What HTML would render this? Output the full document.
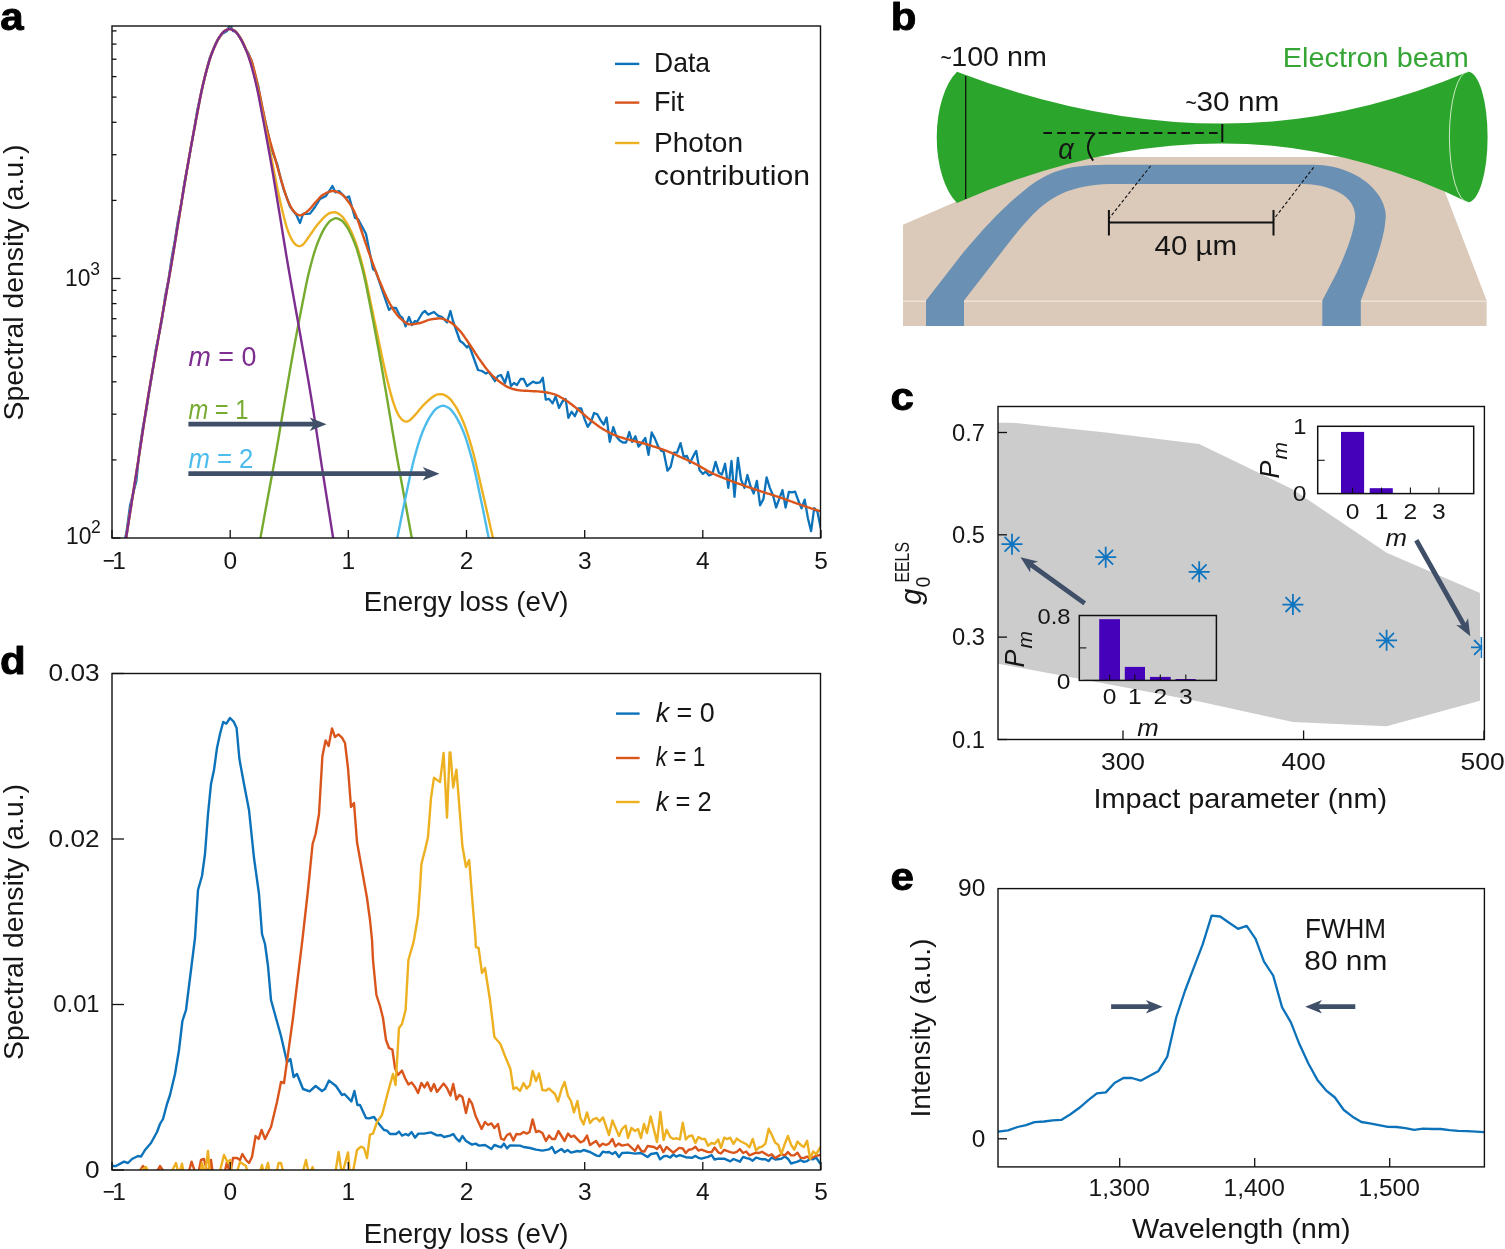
<!DOCTYPE html>
<html lang="en"><head><meta charset="utf-8"><title>Figure</title>
<style>html,body{margin:0;padding:0;background:#fff}svg{display:block}text{font-family:"Liberation Sans",sans-serif}</style></head><body>
<svg width="1505" height="1249" viewBox="0 0 1505 1249">
<rect width="1505" height="1249" fill="#fff"/>
<defs>
<clipPath id="ca"><rect x="112" y="26" width="709" height="512"/></clipPath>
<clipPath id="cd"><rect x="112" y="673.5" width="709" height="496.5"/></clipPath>
<clipPath id="cc"><rect x="998" y="406.5" width="484.3" height="333"/></clipPath>
<clipPath id="ce"><rect x="998" y="888.6" width="486" height="278.3"/></clipPath>
</defs>
<g clip-path="url(#ca)">
<path d="M114.0 591.8 L117.2 594.5 L120.4 573.2 L123.6 546.7 L126.8 529.9 L130.0 505.9 L133.2 493.3 L136.4 480.7 L139.6 449.3 L142.8 427.7 L146.0 412.2 L149.2 391.8 L152.4 372.1 L155.6 350.3 L158.8 335.5 L162.0 319.5 L165.2 295.7 L168.4 280.2 L171.6 258.5 L174.8 240.8 L178.0 220.2 L181.2 203.8 L184.4 182.7 L187.6 166.4 L190.8 148.1 L194.0 130.2 L197.2 110.5 L200.4 96.2 L203.6 82.0 L206.8 69.5 L210.0 57.1 L213.2 49.5 L216.4 41.8 L219.6 36.3 L222.8 33.5 L227.0 31.0 L230.0 24.5 L233.0 31.0 L235.6 31.3 L238.8 35.7 L242.0 41.2 L245.2 48.1 L248.4 53.2 L251.6 61.1 L254.8 73.9 L258.0 85.0 L261.2 102.4 L264.4 117.8 L267.6 131.3 L270.8 146.6 L274.0 155.8 L277.2 164.3 L280.4 177.6 L283.6 189.1 L286.8 197.7 L290.0 206.5 L293.2 210.7 L296.4 215.0 L300.0 223.0 L303.0 214.0 L310.0 213.6 L315.0 207.0 L320.0 199.0 L326.0 196.0 L332.4 186.0 L335.6 192.4 L339.0 191.0 L346.0 198.0 L349.0 196.4 L355.0 218.0 L358.0 219.0 L366.0 234.0 L373.0 269.0 L375.6 271.0 L389.0 310.0 L391.0 308.0 L396.0 308.0 L400.0 316.0 L402.4 317.6 L405.6 326.4 L409.0 317.0 L412.0 325.0 L415.0 321.0 L417.0 322.0 L422.4 313.0 L425.0 311.0 L428.0 314.6 L434.0 312.0 L438.0 315.6 L442.0 317.0 L447.0 322.4 L450.4 311.0 L453.0 321.0 L460.0 341.0 L463.0 343.0 L467.0 347.6 L469.0 345.0 L478.0 370.0 L482.0 371.0 L486.0 373.6 L489.0 372.0 L495.0 381.0 L498.0 376.0 L501.0 375.0 L505.0 383.0 L508.0 372.0 L511.0 386.0 L514.0 383.0 L517.0 385.0 L520.6 379.0 L523.6 379.0 L527.0 386.0 L533.0 381.6 L536.0 383.0 L540.0 382.3 L542.8 377.8 L545.8 399.6 L549.0 398.9 L552.6 403.4 L555.6 396.4 L559.0 407.9 L562.4 401.5 L565.6 398.9 L568.4 417.8 L571.6 411.7 L574.8 416.2 L578.2 408.5 L581.3 408.5 L584.5 418.8 L587.7 426.9 L590.9 422.0 L594.1 413.0 L597.3 414.3 L600.5 420.1 L603.7 424.6 L606.6 417.5 L609.8 441.8 L613.3 427.1 L616.5 436.7 L619.7 440.6 L622.9 442.5 L626.1 442.5 L629.3 432.0 L632.2 441.8 L635.4 436.3 L638.6 446.6 L642.1 442.5 L645.3 438.0 L648.5 454.9 L651.7 432.5 L654.9 438.6 L658.1 446.3 L661.3 450.8 L663.6 451.5 L667.5 470.7 L670.7 466.8 L673.9 452.7 L677.1 452.7 L680.5 443.1 L683.7 456.8 L686.9 455.9 L689.9 463.0 L693.1 456.6 L693.9 454.8 L696.2 450.9 L699.5 470.0 L702.9 473.9 L705.7 471.7 L709.1 475.6 L712.4 473.9 L715.6 461.8 L718.9 472.8 L721.9 474.5 L725.1 463.8 L728.3 487.9 L731.5 461.0 L734.5 496.9 L737.9 457.9 L741.0 479.5 L744.4 487.9 L747.4 475.0 L750.5 486.2 L753.7 493.5 L756.9 480.8 L760.1 505.3 L763.4 499.1 L766.6 477.3 L769.8 487.9 L773.0 495.2 L776.1 507.5 L779.3 498.6 L782.5 490.1 L785.6 507.5 L788.9 491.8 L792.0 492.4 L795.1 491.6 L798.4 500.8 L801.5 508.4 L804.7 499.7 L807.9 518.2 L811.1 531.1 L814.2 508.1 L817.5 512.0 L820.8 528.3" fill="none" stroke="#0c72ba" stroke-width="2.3" stroke-linejoin="round" stroke-linecap="butt"/>
<path d="M112.0 591.8 L113.0 591.8 L114.0 591.8 L115.0 591.8 L116.0 591.8 L117.0 591.8 L118.0 591.8 L119.0 585.1 L120.0 578.4 L121.0 571.7 L122.0 565.0 L123.0 558.4 L124.0 551.8 L125.0 545.2 L126.0 538.7 L127.0 532.2 L128.0 525.7 L129.0 519.4 L130.0 513.0 L131.0 506.7 L132.0 500.4 L133.0 494.1 L134.0 487.8 L135.0 481.5 L136.0 475.2 L137.0 468.8 L138.0 462.4 L139.0 455.9 L140.0 449.3 L141.0 442.7 L142.0 436.1 L143.0 429.5 L144.0 422.9 L145.0 416.4 L146.0 410.0 L147.0 403.7 L148.0 397.6 L149.0 391.5 L150.0 385.6 L151.0 379.8 L152.0 374.0 L153.0 368.3 L154.0 362.6 L155.0 357.0 L156.0 351.4 L157.0 345.7 L158.0 340.1 L159.0 334.4 L160.0 328.7 L161.0 323.1 L162.0 317.4 L163.0 311.8 L164.0 306.2 L165.0 300.6 L166.0 295.0 L167.0 289.3 L168.0 283.7 L169.0 278.0 L170.0 272.3 L171.0 266.5 L172.0 260.6 L173.0 254.6 L174.0 248.6 L175.0 242.4 L176.0 236.2 L177.0 230.0 L178.0 223.8 L179.0 217.7 L180.0 211.6 L181.0 205.5 L182.0 199.4 L183.0 193.3 L184.0 187.3 L185.0 181.3 L186.0 175.3 L187.0 169.5 L188.0 163.7 L189.0 158.0 L190.0 152.4 L191.0 146.8 L192.0 141.3 L193.0 135.9 L194.0 130.5 L195.0 125.2 L196.0 119.9 L197.0 114.6 L198.0 109.3 L199.0 104.0 L200.0 98.8 L201.0 93.8 L202.0 89.0 L203.0 84.6 L204.0 80.4 L205.0 76.3 L206.0 72.4 L207.0 68.7 L208.0 65.1 L209.0 61.7 L210.0 58.6 L211.0 55.7 L212.0 53.0 L213.0 50.4 L214.0 48.0 L215.0 45.7 L216.0 43.5 L217.0 41.5 L218.0 39.6 L219.0 38.0 L220.0 36.4 L221.0 34.9 L222.0 33.6 L223.0 32.4 L224.0 31.4 L225.0 30.7 L226.0 30.2 L227.0 29.6 L228.0 29.3 L229.0 29.1 L230.0 29.0 L231.0 29.2 L232.0 29.6 L233.0 30.0 L234.0 30.6 L235.0 31.3 L236.0 32.2 L237.0 33.3 L238.0 34.6 L239.0 36.1 L240.0 37.6 L241.0 39.3 L242.0 41.1 L243.0 43.1 L244.0 45.2 L245.0 47.6 L246.0 49.9 L247.0 51.9 L248.0 53.7 L249.0 55.4 L250.0 57.3 L251.0 59.5 L252.0 62.2 L253.0 65.5 L254.0 69.3 L255.0 73.3 L256.0 77.7 L257.0 82.1 L258.0 86.7 L259.0 91.1 L260.0 95.6 L261.0 100.4 L262.0 105.4 L263.0 110.5 L264.0 115.6 L265.0 120.6 L266.0 125.3 L267.0 129.7 L268.0 133.7 L269.0 137.4 L270.0 141.0 L271.0 144.5 L272.0 147.9 L273.0 151.3 L274.0 154.7 L275.0 158.2 L276.0 161.8 L277.0 165.4 L278.0 169.0 L279.0 172.6 L280.0 176.1 L281.0 179.5 L282.0 182.8 L283.0 186.1 L284.0 189.5 L285.0 192.7 L286.0 195.8 L287.0 198.6 L288.0 201.0 L289.0 203.2 L290.0 205.3 L291.0 207.2 L292.0 209.0 L293.0 210.5 L294.0 211.7 L295.0 212.6 L296.0 213.5 L297.0 214.2 L298.0 214.8 L299.0 215.2 L300.0 215.4 L301.0 215.3 L302.0 215.0 L303.0 214.5 L304.0 213.8 L305.0 213.1 L306.0 212.4 L307.0 211.6 L308.0 210.8 L309.0 209.9 L310.0 208.8 L311.0 207.7 L312.0 206.5 L313.0 205.2 L314.0 204.0 L315.0 202.9 L316.0 201.8 L317.0 200.7 L318.0 199.6 L319.0 198.4 L320.0 197.3 L321.0 196.4 L322.0 195.5 L323.0 194.8 L324.0 194.2 L325.0 193.7 L326.0 193.1 L327.0 192.7 L328.0 192.2 L329.0 191.8 L330.0 191.5 L331.0 191.2 L332.0 191.1 L333.0 191.0 L334.0 191.1 L335.0 191.2 L336.0 191.5 L337.0 191.9 L338.0 192.3 L339.0 192.8 L340.0 193.3 L341.0 193.8 L342.0 194.4 L343.0 195.3 L344.0 196.2 L345.0 197.4 L346.0 198.6 L347.0 199.9 L348.0 201.2 L349.0 202.6 L350.0 204.0 L351.0 205.6 L352.0 207.3 L353.0 209.1 L354.0 211.1 L355.0 213.2 L356.0 215.4 L357.0 218.0 L358.0 220.8 L359.0 223.7 L360.0 226.6 L361.0 229.5 L362.0 232.4 L363.0 235.3 L364.0 238.3 L365.0 241.3 L366.0 244.2 L367.0 247.2 L368.0 250.0 L369.0 252.8 L370.0 255.6 L371.0 258.4 L372.0 261.1 L373.0 263.9 L374.0 266.6 L375.0 269.3 L376.0 271.9 L377.0 274.5 L378.0 277.1 L379.0 279.6 L380.0 282.0 L381.0 284.4 L382.0 286.8 L383.0 289.2 L384.0 291.6 L385.0 293.9 L386.0 296.1 L387.0 298.2 L388.0 300.3 L389.0 302.2 L390.0 304.0 L391.0 305.7 L392.0 307.4 L393.0 309.0 L394.0 310.5 L395.0 312.0 L396.0 313.4 L397.0 314.8 L398.0 316.0 L399.0 317.1 L400.0 318.0 L401.0 318.9 L402.0 319.8 L403.0 320.7 L404.0 321.5 L405.0 322.3 L406.0 323.0 L407.0 323.6 L408.0 324.0 L409.0 324.3 L410.0 324.4 L411.0 324.4 L412.0 324.3 L413.0 324.2 L414.0 324.1 L415.0 323.9 L416.0 323.8 L417.0 323.6 L418.0 323.4 L419.0 323.2 L420.0 323.0 L421.0 322.8 L422.0 322.4 L423.0 322.1 L424.0 321.7 L425.0 321.3 L426.0 320.9 L427.0 320.5 L428.0 320.1 L429.0 319.8 L430.0 319.6 L431.0 319.4 L432.0 319.2 L433.0 319.1 L434.0 318.9 L435.0 318.8 L436.0 318.7 L437.0 318.5 L438.0 318.5 L439.0 318.4 L440.0 318.4 L441.0 318.5 L442.0 318.6 L443.0 318.9 L444.0 319.2 L445.0 319.6 L446.0 320.0 L447.0 320.5 L448.0 321.0 L449.0 321.5 L450.0 322.0 L451.0 322.6 L452.0 323.2 L453.0 324.0 L454.0 324.9 L455.0 325.8 L456.0 326.7 L457.0 327.8 L458.0 328.8 L459.0 329.9 L460.0 331.0 L461.0 332.1 L462.0 333.4 L463.0 334.7 L464.0 336.1 L465.0 337.6 L466.0 339.0 L467.0 340.5 L468.0 342.0 L469.0 343.5 L470.0 345.0 L471.0 346.5 L472.0 348.0 L473.0 349.5 L474.0 351.0 L475.0 352.6 L476.0 354.1 L477.0 355.6 L478.0 357.1 L479.0 358.6 L480.0 360.0 L481.0 361.4 L482.0 362.8 L483.0 364.2 L484.0 365.6 L485.0 366.9 L486.0 368.2 L487.0 369.5 L488.0 370.7 L489.0 371.9 L490.0 373.0 L491.0 374.0 L492.0 375.1 L493.0 376.1 L494.0 377.0 L495.0 377.9 L496.0 378.8 L497.0 379.7 L498.0 380.5 L499.0 381.3 L500.0 382.0 L501.0 382.7 L502.0 383.4 L503.0 384.1 L504.0 384.8 L505.0 385.5 L506.0 386.1 L507.0 386.7 L508.0 387.2 L509.0 387.6 L510.0 388.0 L511.0 388.3 L512.0 388.7 L513.0 389.0 L514.0 389.2 L515.0 389.5 L516.0 389.7 L517.0 390.0 L518.0 390.1 L519.0 390.3 L520.0 390.4 L521.0 390.5 L522.0 390.6 L523.0 390.6 L524.0 390.7 L525.0 390.7 L526.0 390.8 L527.0 390.8 L528.0 390.9 L529.0 390.9 L530.0 391.0 L531.0 391.1 L532.0 391.1 L533.0 391.2 L534.0 391.2 L535.0 391.3 L536.0 391.3 L537.0 391.4 L538.0 391.4 L539.0 391.5 L540.0 391.6 L541.0 391.7 L542.0 391.8 L543.0 391.9 L544.0 392.1 L545.0 392.2 L546.0 392.4 L547.0 392.5 L548.0 392.7 L549.0 392.9 L550.0 393.1 L551.0 393.4 L552.0 393.6 L553.0 393.9 L554.0 394.1 L555.0 394.5 L556.0 394.9 L557.0 395.3 L558.0 395.8 L559.0 396.3 L560.0 396.9 L561.0 397.5 L562.0 398.0 L563.0 398.6 L564.0 399.2 L565.0 399.8 L566.0 400.4 L567.0 401.1 L568.0 401.7 L569.0 402.4 L570.0 403.2 L571.0 403.9 L572.0 404.7 L573.0 405.5 L574.0 406.3 L575.0 407.1 L576.0 407.9 L577.0 408.7 L578.0 409.5 L579.0 410.3 L580.0 411.1 L581.0 412.0 L582.0 412.8 L583.0 413.7 L584.0 414.6 L585.0 415.5 L586.0 416.4 L587.0 417.2 L588.0 418.1 L589.0 418.9 L590.0 419.8 L591.0 420.5 L592.0 421.3 L593.0 422.1 L594.0 422.8 L595.0 423.6 L596.0 424.3 L597.0 425.1 L598.0 425.8 L599.0 426.5 L600.0 427.2 L601.0 427.8 L602.0 428.5 L603.0 429.1 L604.0 429.7 L605.0 430.3 L606.0 430.8 L607.0 431.4 L608.0 431.9 L609.0 432.4 L610.0 433.0 L611.0 433.4 L612.0 433.9 L613.0 434.4 L614.0 434.8 L615.0 435.2 L616.0 435.7 L617.0 436.0 L618.0 436.4 L619.0 436.8 L620.0 437.1 L621.0 437.4 L622.0 437.7 L623.0 438.0 L624.0 438.3 L625.0 438.6 L626.0 438.9 L627.0 439.2 L628.0 439.4 L629.0 439.7 L630.0 440.0 L631.0 440.2 L632.0 440.5 L633.0 440.8 L634.0 441.0 L635.0 441.2 L636.0 441.5 L637.0 441.7 L638.0 442.0 L639.0 442.2 L640.0 442.4 L641.0 442.7 L642.0 443.0 L643.0 443.2 L644.0 443.5 L645.0 443.8 L646.0 444.1 L647.0 444.4 L648.0 444.7 L649.0 445.0 L650.0 445.3 L651.0 445.6 L652.0 445.9 L653.0 446.3 L654.0 446.6 L655.0 446.9 L656.0 447.2 L657.0 447.6 L658.0 447.9 L659.0 448.2 L660.0 448.6 L661.0 448.9 L662.0 449.2 L663.0 449.6 L664.0 450.0 L665.0 450.3 L666.0 450.7 L667.0 451.1 L668.0 451.5 L669.0 451.9 L670.0 452.3 L671.0 452.7 L672.0 453.1 L673.0 453.6 L674.0 454.0 L675.0 454.5 L676.0 455.0 L677.0 455.4 L678.0 455.9 L679.0 456.3 L680.0 456.8 L681.0 457.2 L682.0 457.7 L683.0 458.1 L684.0 458.6 L685.0 459.0 L686.0 459.5 L687.0 459.9 L688.0 460.3 L689.0 460.8 L690.0 461.2 L691.0 461.7 L692.0 462.2 L693.0 462.7 L694.0 463.1 L695.0 463.7 L696.0 464.2 L697.0 464.7 L698.0 465.3 L699.0 465.9 L700.0 466.4 L701.0 467.0 L702.0 467.6 L703.0 468.2 L704.0 468.8 L705.0 469.4 L706.0 469.9 L707.0 470.5 L708.0 471.0 L709.0 471.6 L710.0 472.1 L711.0 472.6 L712.0 473.1 L713.0 473.6 L714.0 474.0 L715.0 474.5 L716.0 474.9 L717.0 475.4 L718.0 475.8 L719.0 476.2 L720.0 476.6 L721.0 477.0 L722.0 477.4 L723.0 477.8 L724.0 478.2 L725.0 478.6 L726.0 479.0 L727.0 479.4 L728.0 479.8 L729.0 480.1 L730.0 480.5 L731.0 480.9 L732.0 481.3 L733.0 481.6 L734.0 482.0 L735.0 482.4 L736.0 482.7 L737.0 483.1 L738.0 483.5 L739.0 483.8 L740.0 484.2 L741.0 484.5 L742.0 484.9 L743.0 485.2 L744.0 485.6 L745.0 485.9 L746.0 486.3 L747.0 486.6 L748.0 487.0 L749.0 487.3 L750.0 487.6 L751.0 488.0 L752.0 488.3 L753.0 488.7 L754.0 489.0 L755.0 489.3 L756.0 489.7 L757.0 490.0 L758.0 490.3 L759.0 490.7 L760.0 491.0 L761.0 491.3 L762.0 491.7 L763.0 492.0 L764.0 492.3 L765.0 492.6 L766.0 492.9 L767.0 493.3 L768.0 493.6 L769.0 493.9 L770.0 494.2 L771.0 494.5 L772.0 494.9 L773.0 495.2 L774.0 495.5 L775.0 495.8 L776.0 496.2 L777.0 496.5 L778.0 496.8 L779.0 497.2 L780.0 497.5 L781.0 497.8 L782.0 498.2 L783.0 498.5 L784.0 498.9 L785.0 499.2 L786.0 499.6 L787.0 500.0 L788.0 500.3 L789.0 500.7 L790.0 501.0 L791.0 501.4 L792.0 501.7 L793.0 502.1 L794.0 502.5 L795.0 502.8 L796.0 503.2 L797.0 503.5 L798.0 503.9 L799.0 504.2 L800.0 504.6 L801.0 504.9 L802.0 505.3 L803.0 505.6 L804.0 505.9 L805.0 506.3 L806.0 506.6 L807.0 506.9 L808.0 507.3 L809.0 507.6 L810.0 507.9 L811.0 508.3 L812.0 508.6 L813.0 508.9 L814.0 509.2 L815.0 509.6 L816.0 509.9 L817.0 510.2 L818.0 510.5 L819.0 510.8 L820.0 511.1 L821.0 511.4" fill="none" stroke="#d9551c" stroke-width="2.4" stroke-linejoin="round" stroke-linecap="butt"/>
<path d="M112.0 632.5 L113.0 625.7 L114.0 618.9 L115.0 612.1 L116.0 605.3 L117.0 598.5 L118.0 591.8 L119.0 585.0 L120.0 578.3 L121.0 571.6 L122.0 565.0 L123.0 558.3 L124.0 551.7 L125.0 545.2 L126.0 538.6 L127.0 532.1 L128.0 525.7 L129.0 519.3 L130.0 513.0 L131.0 506.7 L132.0 500.4 L133.0 494.1 L134.0 487.8 L135.0 481.5 L136.0 475.2 L137.0 468.8 L138.0 462.4 L139.0 455.9 L140.0 449.3 L141.0 442.7 L142.0 436.0 L143.0 429.4 L144.0 422.8 L145.0 416.3 L146.0 409.9 L147.0 403.7 L148.0 397.5 L149.0 391.5 L150.0 385.6 L151.0 379.7 L152.0 374.0 L153.0 368.3 L154.0 362.6 L155.0 356.9 L156.0 351.3 L157.0 345.7 L158.0 340.0 L159.0 334.4 L160.0 328.7 L161.0 323.0 L162.0 317.3 L163.0 311.7 L164.0 306.1 L165.0 300.5 L166.0 294.9 L167.0 289.3 L168.0 283.6 L169.0 277.9 L170.0 272.2 L171.0 266.4 L172.0 260.5 L173.0 254.6 L174.0 248.5 L175.0 242.3 L176.0 236.1 L177.0 229.9 L178.0 223.7 L179.0 217.6 L180.0 211.5 L181.0 205.4 L182.0 199.3 L183.0 193.2 L184.0 187.2 L185.0 181.2 L186.0 175.2 L187.0 169.4 L188.0 163.6 L189.0 158.0 L190.0 152.3 L191.0 146.7 L192.0 141.2 L193.0 135.8 L194.0 130.4 L195.0 125.1 L196.0 119.8 L197.0 114.5 L198.0 109.2 L199.0 103.9 L200.0 98.7 L201.0 93.7 L202.0 89.0 L203.0 84.5 L204.0 80.3 L205.0 76.3 L206.0 72.4 L207.0 68.6 L208.0 65.0 L209.0 61.6 L210.0 58.5 L211.0 55.5 L212.0 52.8 L213.0 50.3 L214.0 47.9 L215.0 45.6 L216.0 43.4 L217.0 41.4 L218.0 39.5 L219.0 37.8 L220.0 36.3 L221.0 34.8 L222.0 33.4 L223.0 32.2 L224.0 31.2 L225.0 30.6 L226.0 30.0 L227.0 29.5 L228.0 29.1 L229.0 28.8 L230.0 28.8 L231.0 29.0 L232.0 29.3 L233.0 29.8 L234.0 30.3 L235.0 30.9 L236.0 31.8 L237.0 32.9 L238.0 34.3 L239.0 35.7 L240.0 37.2 L241.0 38.8 L242.0 40.6 L243.0 42.5 L244.0 44.6 L245.0 46.9 L246.0 49.2 L247.0 51.7 L248.0 54.3 L249.0 57.1 L250.0 60.1 L251.0 63.4 L252.0 66.8 L253.0 70.4 L254.0 74.2 L255.0 78.1 L256.0 82.1 L257.0 86.4 L258.0 90.9 L259.0 95.7 L260.0 100.6 L261.0 105.7 L262.0 110.7 L263.0 115.8 L264.0 120.7 L265.0 125.7 L266.0 130.7 L267.0 135.7 L268.0 140.8 L269.0 145.9 L270.0 151.0 L271.0 156.0 L272.0 161.1 L273.0 166.2 L274.0 171.3 L275.0 176.4 L276.0 181.4 L277.0 186.4 L278.0 191.3 L279.0 196.0 L280.0 200.5 L281.0 205.0 L282.0 209.3 L283.0 213.5 L284.0 217.5 L285.0 221.3 L286.0 224.8 L287.0 228.1 L288.0 231.0 L289.0 233.6 L290.0 236.0 L291.0 238.1 L292.0 239.9 L293.0 241.5 L294.0 242.9 L295.0 244.0 L296.0 244.9 L297.0 245.5 L298.0 245.9 L299.0 246.1 L300.0 246.1 L301.0 245.8 L302.0 245.3 L303.0 244.5 L304.0 243.5 L305.0 242.3 L306.0 240.9 L307.0 239.5 L308.0 238.0 L309.0 236.6 L310.0 235.2 L311.0 233.7 L312.0 232.3 L313.0 230.8 L314.0 229.3 L315.0 227.9 L316.0 226.5 L317.0 225.3 L318.0 224.1 L319.0 222.9 L320.0 221.7 L321.0 220.6 L322.0 219.5 L323.0 218.4 L324.0 217.4 L325.0 216.5 L326.0 215.6 L327.0 214.8 L328.0 214.1 L329.0 213.4 L330.0 212.9 L331.0 212.7 L332.0 212.5 L333.0 212.4 L334.0 212.3 L335.0 212.3 L336.0 212.5 L337.0 212.9 L338.0 213.4 L339.0 214.1 L340.0 214.8 L341.0 215.6 L342.0 216.4 L343.0 217.5 L344.0 218.8 L345.0 220.3 L346.0 221.8 L347.0 223.4 L348.0 225.1 L349.0 227.0 L350.0 229.0 L351.0 231.1 L352.0 233.3 L353.0 235.7 L354.0 238.1 L355.0 240.7 L356.0 243.4 L357.0 246.4 L358.0 249.5 L359.0 252.8 L360.0 256.3 L361.0 259.9 L362.0 263.7 L363.0 267.5 L364.0 271.5 L365.0 275.8 L366.0 280.3 L367.0 285.0 L368.0 289.8 L369.0 294.6 L370.0 299.4 L371.0 304.2 L372.0 309.0 L373.0 313.7 L374.0 318.5 L375.0 323.3 L376.0 328.0 L377.0 332.8 L378.0 337.6 L379.0 342.4 L380.0 347.1 L381.0 351.8 L382.0 356.5 L383.0 361.2 L384.0 365.8 L385.0 370.3 L386.0 374.7 L387.0 378.9 L388.0 383.0 L389.0 387.0 L390.0 390.9 L391.0 394.6 L392.0 398.1 L393.0 401.4 L394.0 404.4 L395.0 407.2 L396.0 409.8 L397.0 412.0 L398.0 414.0 L399.0 415.8 L400.0 417.3 L401.0 418.5 L402.0 419.6 L403.0 420.4 L404.0 421.0 L405.0 421.4 L406.0 421.6 L407.0 421.5 L408.0 421.2 L409.0 420.7 L410.0 420.0 L411.0 419.1 L412.0 418.2 L413.0 417.1 L414.0 416.1 L415.0 415.1 L416.0 413.9 L417.0 412.8 L418.0 411.5 L419.0 410.3 L420.0 409.1 L421.0 407.9 L422.0 406.7 L423.0 405.7 L424.0 404.7 L425.0 403.7 L426.0 402.7 L427.0 401.7 L428.0 400.8 L429.0 399.9 L430.0 399.0 L431.0 398.2 L432.0 397.5 L433.0 396.8 L434.0 396.1 L435.0 395.5 L436.0 394.9 L437.0 394.6 L438.0 394.4 L439.0 394.3 L440.0 394.2 L441.0 394.2 L442.0 394.2 L443.0 394.4 L444.0 394.8 L445.0 395.3 L446.0 395.9 L447.0 396.5 L448.0 397.2 L449.0 398.0 L450.0 398.9 L451.0 400.0 L452.0 401.3 L453.0 402.7 L454.0 404.1 L455.0 405.6 L456.0 407.2 L457.0 408.9 L458.0 410.7 L459.0 412.7 L460.0 414.7 L461.0 416.8 L462.0 419.0 L463.0 421.3 L464.0 423.7 L465.0 426.4 L466.0 429.1 L467.0 432.1 L468.0 435.1 L469.0 438.3 L470.0 441.6 L471.0 445.0 L472.0 448.4 L473.0 452.0 L474.0 455.9 L475.0 459.9 L476.0 464.1 L477.0 468.4 L478.0 472.7 L479.0 477.1 L480.0 481.4 L481.0 485.7 L482.0 490.0 L483.0 494.3 L484.0 498.6 L485.0 502.9 L486.0 507.3 L487.0 511.7 L488.0 516.1 L489.0 520.5 L490.0 524.9 L491.0 529.4 L492.0 533.8 L493.0 538.3 L494.0 542.8 L495.0 547.3 L496.0 551.8 L497.0 556.2 L498.0 560.6 L499.0 564.9 L500.0 569.2 L501.0 573.6 L502.0 577.8 L503.0 582.0 L504.0 586.2 L505.0 590.3 L506.0 594.2 L507.0 598.1 L508.0 601.8 L509.0 605.5 L510.0 609.0 L511.0 612.5 L512.0 615.9 L513.0 619.3 L514.0 622.5 L515.0 625.8 L516.0 628.9 L517.0 632.0 L518.0 635.1 L519.0 638.1 L520.0 641.1 L521.0 644.0 L522.0 646.9 L523.0 649.7 L524.0 652.4 L525.0 655.1 L526.0 657.7 L527.0 660.3 L528.0 662.8 L529.0 665.3 L530.0 667.7 L531.0 670.1 L532.0 672.5 L533.0 674.8 L534.0 677.1 L535.0 679.4 L536.0 681.7 L537.0 683.9 L538.0 686.1 L539.0 688.2 L540.0 690.3 L541.0 692.3 L542.0 694.3 L543.0 696.1 L544.0 697.9 L545.0 699.6 L546.0 701.3 L547.0 702.8 L548.0 704.3 L549.0 705.7 L550.0 707.1 L551.0 708.4 L552.0 709.7 L553.0 710.9 L554.0 712.1 L555.0 713.3 L556.0 714.4 L557.0 715.4 L558.0 716.4 L559.0 717.4 L560.0 718.4 L561.0 719.3 L562.0 720.2 L563.0 721.0 L564.0 721.8 L565.0 722.6 L566.0 723.4 L567.0 724.1 L568.0 724.7 L569.0 725.4 L570.0 726.0 L571.0 726.6 L572.0 727.2 L573.0 727.7 L574.0 728.2 L575.0 728.7 L576.0 729.2 L577.0 729.6 L578.0 730.0 L579.0 730.4 L580.0 730.8 L581.0 731.2 L582.0 731.5 L583.0 731.8 L584.0 732.1 L585.0 732.4 L586.0 732.7 L587.0 733.0 L588.0 733.2 L589.0 733.5 L590.0 733.7 L591.0 733.9 L592.0 734.1 L593.0 734.3 L594.0 734.5 L595.0 734.7 L596.0 734.8 L597.0 735.0 L598.0 735.1 L599.0 735.3 L600.0 735.4 L601.0 735.5 L602.0 735.7 L603.0 735.8 L604.0 735.9 L605.0 736.0 L606.0 736.1 L607.0 736.2 L608.0 736.2 L609.0 736.3 L610.0 736.4 L611.0 736.5 L612.0 736.5 L613.0 736.6 L614.0 736.7 L615.0 736.7 L616.0 736.8 L617.0 736.8 L618.0 736.9 L619.0 736.9 L620.0 737.0 L621.0 737.0 L622.0 737.0 L623.0 737.1 L624.0 737.1 L625.0 737.2 L626.0 737.2 L627.0 737.2 L628.0 737.2 L629.0 737.3 L630.0 737.3 L631.0 737.3 L632.0 737.3 L633.0 737.4 L634.0 737.4 L635.0 737.4 L636.0 737.4 L637.0 737.4 L638.0 737.4 L639.0 737.5 L640.0 737.5 L641.0 737.5 L642.0 737.5 L643.0 737.5 L644.0 737.5 L645.0 737.5 L646.0 737.5 L647.0 737.5 L648.0 737.6 L649.0 737.6 L650.0 737.6 L651.0 737.6 L652.0 737.6 L653.0 737.6 L654.0 737.6 L655.0 737.6 L656.0 737.6 L657.0 737.6 L658.0 737.6 L659.0 737.6 L660.0 737.6 L661.0 737.6 L662.0 737.6 L663.0 737.6 L664.0 737.6 L665.0 737.6 L666.0 737.6 L667.0 737.6 L668.0 737.7 L669.0 737.7 L670.0 737.7 L671.0 737.7 L672.0 737.7 L673.0 737.7 L674.0 737.7 L675.0 737.7 L676.0 737.7 L677.0 737.7 L678.0 737.7 L679.0 737.7 L680.0 737.7 L681.0 737.7 L682.0 737.7 L683.0 737.7 L684.0 737.7 L685.0 737.7 L686.0 737.7 L687.0 737.7 L688.0 737.7 L689.0 737.7 L690.0 737.7 L691.0 737.7 L692.0 737.7 L693.0 737.7 L694.0 737.7 L695.0 737.7 L696.0 737.7 L697.0 737.7 L698.0 737.7 L699.0 737.7 L700.0 737.7 L701.0 737.7 L702.0 737.7 L703.0 737.7 L704.0 737.7 L705.0 737.7 L706.0 737.7 L707.0 737.7 L708.0 737.7 L709.0 737.7 L710.0 737.7 L711.0 737.7 L712.0 737.7 L713.0 737.7 L714.0 737.7 L715.0 737.7 L716.0 737.7 L717.0 737.7 L718.0 737.7 L719.0 737.7 L720.0 737.7 L721.0 737.7 L722.0 737.7 L723.0 737.7 L724.0 737.7 L725.0 737.7 L726.0 737.7 L727.0 737.7 L728.0 737.7 L729.0 737.7 L730.0 737.7 L731.0 737.7 L732.0 737.7 L733.0 737.7 L734.0 737.7 L735.0 737.7 L736.0 737.7 L737.0 737.7 L738.0 737.7 L739.0 737.7 L740.0 737.7 L741.0 737.7 L742.0 737.7 L743.0 737.7 L744.0 737.7 L745.0 737.7 L746.0 737.7 L747.0 737.7 L748.0 737.7 L749.0 737.7 L750.0 737.7 L751.0 737.7 L752.0 737.7 L753.0 737.7 L754.0 737.7 L755.0 737.7 L756.0 737.7 L757.0 737.7 L758.0 737.7 L759.0 737.7 L760.0 737.7 L761.0 737.7 L762.0 737.7 L763.0 737.7 L764.0 737.7 L765.0 737.7 L766.0 737.7 L767.0 737.7 L768.0 737.7 L769.0 737.7 L770.0 737.7 L771.0 737.7 L772.0 737.7 L773.0 737.7 L774.0 737.7 L775.0 737.7 L776.0 737.7 L777.0 737.7 L778.0 737.7 L779.0 737.7 L780.0 737.7 L781.0 737.7 L782.0 737.7 L783.0 737.7 L784.0 737.7 L785.0 737.7 L786.0 737.7 L787.0 737.7 L788.0 737.7 L789.0 737.7 L790.0 737.7 L791.0 737.7 L792.0 737.7 L793.0 737.7 L794.0 737.7 L795.0 737.7 L796.0 737.7 L797.0 737.7 L798.0 737.7 L799.0 737.7 L800.0 737.7 L801.0 737.7 L802.0 737.7 L803.0 737.7 L804.0 737.7 L805.0 737.7 L806.0 737.7 L807.0 737.7 L808.0 737.7 L809.0 737.7 L810.0 737.7 L811.0 737.7 L812.0 737.7 L813.0 737.7 L814.0 737.7 L815.0 737.7 L816.0 737.7 L817.0 737.7 L818.0 737.7 L819.0 737.7 L820.0 737.7 L821.0 737.7" fill="none" stroke="#edb021" stroke-width="2.4" stroke-linejoin="round" stroke-linecap="butt"/>
<path d="M112.0 1529.3 L113.0 1522.3 L114.0 1515.3 L115.0 1508.4 L116.0 1501.4 L117.0 1494.5 L118.0 1487.5 L119.0 1480.6 L120.0 1473.6 L121.0 1466.6 L122.0 1459.7 L123.0 1452.7 L124.0 1445.8 L125.0 1438.8 L126.0 1431.9 L127.0 1424.9 L128.0 1418.0 L129.0 1411.0 L130.0 1404.0 L131.0 1397.1 L132.0 1390.1 L133.0 1383.2 L134.0 1376.2 L135.0 1369.3 L136.0 1362.3 L137.0 1355.3 L138.0 1348.4 L139.0 1341.4 L140.0 1334.5 L141.0 1327.5 L142.0 1320.6 L143.0 1313.6 L144.0 1306.6 L145.0 1299.7 L146.0 1292.7 L147.0 1285.8 L148.0 1278.8 L149.0 1271.9 L150.0 1264.9 L151.0 1258.0 L152.0 1251.0 L153.0 1244.0 L154.0 1237.1 L155.0 1230.1 L156.0 1223.2 L157.0 1216.2 L158.0 1209.3 L159.0 1202.3 L160.0 1195.3 L161.0 1188.4 L162.0 1181.4 L163.0 1174.5 L164.0 1167.5 L165.0 1160.6 L166.0 1153.6 L167.0 1146.6 L168.0 1139.7 L169.0 1132.7 L170.0 1125.8 L171.0 1118.8 L172.0 1111.9 L173.0 1104.9 L174.0 1098.0 L175.0 1091.0 L176.0 1084.0 L177.0 1077.1 L178.0 1070.1 L179.0 1063.2 L180.0 1056.2 L181.0 1049.3 L182.0 1042.3 L183.0 1035.3 L184.0 1028.4 L185.0 1021.4 L186.0 1014.5 L187.0 1007.5 L188.0 1000.6 L189.0 993.6 L190.0 986.6 L191.0 979.7 L192.0 972.8 L193.0 965.9 L194.0 959.0 L195.0 952.2 L196.0 945.3 L197.0 938.5 L198.0 931.7 L199.0 924.9 L200.0 918.1 L201.0 911.3 L202.0 904.5 L203.0 897.8 L204.0 891.0 L205.0 884.3 L206.0 877.6 L207.0 870.9 L208.0 864.2 L209.0 857.6 L210.0 850.9 L211.0 844.3 L212.0 837.6 L213.0 831.0 L214.0 824.4 L215.0 817.8 L216.0 811.2 L217.0 804.6 L218.0 798.1 L219.0 791.5 L220.0 785.0 L221.0 778.5 L222.0 772.0 L223.0 765.5 L224.0 759.0 L225.0 752.6 L226.0 746.2 L227.0 739.8 L228.0 733.5 L229.0 727.2 L230.0 720.9 L231.0 714.7 L232.0 708.5 L233.0 702.4 L234.0 696.3 L235.0 690.2 L236.0 684.2 L237.0 678.1 L238.0 672.0 L239.0 665.9 L240.0 659.7 L241.0 653.6 L242.0 647.3 L243.0 641.0 L244.0 634.6 L245.0 628.2 L246.0 621.8 L247.0 615.4 L248.0 609.1 L249.0 602.8 L250.0 596.7 L251.0 590.7 L252.0 584.8 L253.0 579.0 L254.0 573.3 L255.0 567.7 L256.0 562.1 L257.0 556.6 L258.0 551.1 L259.0 545.7 L260.0 540.3 L261.0 534.8 L262.0 529.4 L263.0 523.9 L264.0 518.4 L265.0 512.9 L266.0 507.4 L267.0 502.0 L268.0 496.6 L269.0 491.2 L270.0 485.8 L271.0 480.3 L272.0 474.9 L273.0 469.4 L274.0 463.9 L275.0 458.3 L276.0 452.6 L277.0 446.9 L278.0 441.1 L279.0 435.2 L280.0 429.2 L281.0 423.3 L282.0 417.3 L283.0 411.3 L284.0 405.4 L285.0 399.5 L286.0 393.6 L287.0 387.7 L288.0 381.8 L289.0 376.0 L290.0 370.2 L291.0 364.5 L292.0 358.8 L293.0 353.3 L294.0 347.8 L295.0 342.3 L296.0 336.9 L297.0 331.6 L298.0 326.3 L299.0 321.1 L300.0 315.9 L301.0 310.8 L302.0 305.7 L303.0 300.6 L304.0 295.5 L305.0 290.4 L306.0 285.5 L307.0 280.8 L308.0 276.3 L309.0 272.1 L310.0 268.1 L311.0 264.3 L312.0 260.5 L313.0 257.0 L314.0 253.6 L315.0 250.3 L316.0 247.3 L317.0 244.5 L318.0 242.0 L319.0 239.5 L320.0 237.2 L321.0 234.9 L322.0 232.9 L323.0 230.9 L324.0 229.1 L325.0 227.4 L326.0 225.9 L327.0 224.5 L328.0 223.2 L329.0 222.0 L330.0 221.0 L331.0 220.3 L332.0 219.7 L333.0 219.2 L334.0 218.7 L335.0 218.4 L336.0 218.3 L337.0 218.4 L338.0 218.7 L339.0 219.1 L340.0 219.6 L341.0 220.1 L342.0 220.8 L343.0 221.7 L344.0 222.9 L345.0 224.2 L346.0 225.6 L347.0 227.1 L348.0 228.7 L349.0 230.5 L350.0 232.5 L351.0 234.5 L352.0 236.7 L353.0 239.0 L354.0 241.5 L355.0 244.0 L356.0 246.7 L357.0 249.7 L358.0 252.9 L359.0 256.3 L360.0 259.8 L361.0 263.5 L362.0 267.3 L363.0 271.3 L364.0 275.4 L365.0 279.9 L366.0 284.5 L367.0 289.4 L368.0 294.5 L369.0 299.6 L370.0 304.7 L371.0 309.8 L372.0 314.9 L373.0 320.0 L374.0 325.3 L375.0 330.5 L376.0 335.8 L377.0 341.2 L378.0 346.7 L379.0 352.1 L380.0 357.7 L381.0 363.3 L382.0 369.0 L383.0 374.8 L384.0 380.7 L385.0 386.5 L386.0 392.4 L387.0 398.3 L388.0 404.2 L389.0 410.1 L390.0 416.1 L391.0 422.1 L392.0 428.1 L393.0 434.0 L394.0 439.9 L395.0 445.8 L396.0 451.5 L397.0 457.2 L398.0 462.8 L399.0 468.3 L400.0 473.8 L401.0 479.2 L402.0 484.7 L403.0 490.1 L404.0 495.5 L405.0 500.9 L406.0 506.3 L407.0 511.8 L408.0 517.3 L409.0 522.8 L410.0 528.3 L411.0 533.7 L412.0 539.2 L413.0 544.6 L414.0 550.0 L415.0 555.5 L416.0 561.0 L417.0 566.6 L418.0 572.2 L419.0 577.9 L420.0 583.6 L421.0 589.5 L422.0 595.5 L423.0 601.6 L424.0 607.8 L425.0 614.1 L426.0 620.5 L427.0 626.9 L428.0 633.3 L429.0 639.7 L430.0 646.0 L431.0 652.3 L432.0 658.5 L433.0 664.7 L434.0 670.8 L435.0 676.9 L436.0 682.9 L437.0 689.0 L438.0 695.1 L439.0 701.2 L440.0 707.3 L441.0 713.4 L442.0 719.6 L443.0 725.9 L444.0 732.2 L445.0 738.5 L446.0 744.9 L447.0 751.3 L448.0 757.7 L449.0 764.2 L450.0 770.7 L451.0 777.2 L452.0 783.7 L453.0 790.2 L454.0 796.7 L455.0 803.3 L456.0 809.9 L457.0 816.5 L458.0 823.1 L459.0 829.7 L460.0 836.3 L461.0 842.9 L462.0 849.6 L463.0 856.2 L464.0 862.9 L465.0 869.6 L466.0 876.3 L467.0 883.0 L468.0 889.7 L469.0 896.4 L470.0 903.2 L471.0 909.9 L472.0 916.7 L473.0 923.5 L474.0 930.3 L475.0 937.1 L476.0 943.9 L477.0 950.8 L478.0 957.6 L479.0 964.5 L480.0 971.4 L481.0 978.3 L482.0 985.3 L483.0 992.2 L484.0 999.2 L485.0 1006.1 L486.0 1013.1 L487.0 1020.0 L488.0 1027.0 L489.0 1034.0 L490.0 1040.9 L491.0 1047.9 L492.0 1054.8 L493.0 1061.8 L494.0 1068.7 L495.0 1075.7 L496.0 1082.6 L497.0 1089.6 L498.0 1096.6 L499.0 1103.5 L500.0 1110.5 L501.0 1117.4 L502.0 1124.4 L503.0 1131.3 L504.0 1138.3 L505.0 1145.3 L506.0 1152.2 L507.0 1159.2 L508.0 1166.1 L509.0 1173.1 L510.0 1180.0 L511.0 1187.0 L512.0 1194.0 L513.0 1200.9 L514.0 1207.9 L515.0 1214.8 L516.0 1221.8 L517.0 1228.7 L518.0 1235.7 L519.0 1242.6 L520.0 1249.6 L521.0 1256.6 L522.0 1263.5 L523.0 1270.5 L524.0 1277.4 L525.0 1284.4 L526.0 1291.3 L527.0 1298.3 L528.0 1305.3 L529.0 1312.2 L530.0 1319.2 L531.0 1326.1 L532.0 1333.1 L533.0 1340.0 L534.0 1347.0 L535.0 1354.0 L536.0 1360.9 L537.0 1367.9 L538.0 1374.8 L539.0 1381.8 L540.0 1388.7 L541.0 1395.7 L542.0 1402.6 L543.0 1409.6 L544.0 1416.6 L545.0 1423.5 L546.0 1430.5 L547.0 1437.4 L548.0 1444.4 L549.0 1451.3 L550.0 1458.3 L551.0 1465.3 L552.0 1472.2 L553.0 1479.2 L554.0 1486.1 L555.0 1493.1 L556.0 1500.0 L557.0 1507.0 L558.0 1514.0 L559.0 1520.9 L560.0 1527.9 L561.0 1534.8 L562.0 1541.8 L563.0 1548.7 L564.0 1555.7 L565.0 1562.6 L566.0 1569.6 L567.0 1576.6 L568.0 1583.5 L569.0 1590.5 L570.0 1597.4 L571.0 1604.4 L572.0 1611.3 L573.0 1618.3 L574.0 1625.3 L575.0 1632.2 L576.0 1639.2 L577.0 1646.1 L578.0 1653.1 L579.0 1660.0 L580.0 1667.0 L581.0 1674.0 L582.0 1680.9 L583.0 1687.9 L584.0 1694.8 L585.0 1701.8 L586.0 1708.7 L587.0 1715.7 L588.0 1722.6 L589.0 1729.6 L590.0 1736.6 L591.0 1743.5 L592.0 1750.5 L593.0 1757.4 L594.0 1764.4 L595.0 1771.3 L596.0 1778.3 L597.0 1785.3 L598.0 1792.2 L599.0 1799.2 L600.0 1806.1 L601.0 1813.1 L602.0 1820.0 L603.0 1827.0 L604.0 1834.0 L605.0 1840.9 L606.0 1847.9 L607.0 1854.8 L608.0 1861.8 L609.0 1868.7 L610.0 1875.7 L611.0 1882.6 L612.0 1889.6 L613.0 1896.6 L614.0 1903.5 L615.0 1910.5 L616.0 1917.4 L617.0 1924.4 L618.0 1931.3 L619.0 1938.3 L620.0 1945.3 L621.0 1952.2 L622.0 1959.2 L623.0 1966.1 L624.0 1973.1 L625.0 1980.0 L626.0 1987.0 L627.0 1994.0 L628.0 2000.9 L629.0 2007.9 L630.0 2014.8 L631.0 2021.8 L632.0 2028.7 L633.0 2035.7 L634.0 2042.6 L635.0 2049.6 L636.0 2056.6 L637.0 2063.5 L638.0 2070.5 L639.0 2077.4 L640.0 2084.4 L641.0 2091.3 L642.0 2098.3 L643.0 2105.3 L644.0 2112.2 L645.0 2119.2 L646.0 2126.1 L647.0 2133.1 L648.0 2140.0 L649.0 2147.0 L650.0 2154.0 L651.0 2160.9 L652.0 2167.9 L653.0 2174.8 L654.0 2181.8 L655.0 2188.7 L656.0 2195.7 L657.0 2202.6 L658.0 2209.6 L659.0 2216.6 L660.0 2223.5 L661.0 2230.5 L662.0 2237.4 L663.0 2244.4 L664.0 2251.3 L665.0 2258.3 L666.0 2265.3 L667.0 2272.2 L668.0 2279.2 L669.0 2286.1 L670.0 2293.1 L671.0 2300.0 L672.0 2307.0 L673.0 2314.0 L674.0 2320.9 L675.0 2327.9 L676.0 2334.8 L677.0 2341.8 L678.0 2348.7 L679.0 2355.7 L680.0 2362.6 L681.0 2369.6 L682.0 2376.6 L683.0 2383.5 L684.0 2390.5 L685.0 2397.4 L686.0 2404.4 L687.0 2411.3 L688.0 2418.3 L689.0 2425.3 L690.0 2432.2 L691.0 2439.2 L692.0 2446.1 L693.0 2453.1 L694.0 2460.0 L695.0 2467.0 L696.0 2474.0 L697.0 2480.9 L698.0 2487.9 L699.0 2494.8 L700.0 2501.8 L701.0 2508.7 L702.0 2515.7 L703.0 2522.6 L704.0 2529.6 L705.0 2536.6 L706.0 2543.5 L707.0 2550.5 L708.0 2557.4 L709.0 2564.4 L710.0 2571.3 L711.0 2578.3 L712.0 2585.3 L713.0 2592.2 L714.0 2599.2 L715.0 2606.1 L716.0 2613.1 L717.0 2620.0 L718.0 2627.0 L719.0 2634.0 L720.0 2640.9 L721.0 2647.9 L722.0 2654.8 L723.0 2661.8 L724.0 2668.7 L725.0 2675.7 L726.0 2682.6 L727.0 2689.6 L728.0 2696.6 L729.0 2703.5 L730.0 2710.5 L731.0 2717.4 L732.0 2724.4 L733.0 2731.3 L734.0 2738.3 L735.0 2745.3 L736.0 2752.2 L737.0 2759.2 L738.0 2766.1 L739.0 2773.1 L740.0 2780.0 L741.0 2787.0 L742.0 2794.0 L743.0 2800.9 L744.0 2807.9 L745.0 2814.8 L746.0 2821.8 L747.0 2828.7 L748.0 2835.7 L749.0 2842.6 L750.0 2849.6 L751.0 2856.6 L752.0 2863.5 L753.0 2870.5 L754.0 2877.4 L755.0 2884.4 L756.0 2891.3 L757.0 2898.3 L758.0 2905.3 L759.0 2912.2 L760.0 2919.2 L761.0 2926.1 L762.0 2933.1 L763.0 2940.0 L764.0 2947.0 L765.0 2954.0 L766.0 2960.9 L767.0 2967.9 L768.0 2974.8 L769.0 2981.8 L770.0 2988.7 L771.0 2995.7 L772.0 3002.6 L773.0 3009.6 L774.0 3016.6 L775.0 3023.5 L776.0 3030.5 L777.0 3037.4 L778.0 3044.4 L779.0 3051.3 L780.0 3058.3 L781.0 3065.3 L782.0 3072.2 L783.0 3079.2 L784.0 3086.1 L785.0 3093.1 L786.0 3100.0 L787.0 3107.0 L788.0 3114.0 L789.0 3120.9 L790.0 3127.9 L791.0 3134.8 L792.0 3141.8 L793.0 3148.7 L794.0 3155.7 L795.0 3162.6 L796.0 3169.6 L797.0 3176.6 L798.0 3183.5 L799.0 3190.5 L800.0 3197.4 L801.0 3204.4 L802.0 3211.3 L803.0 3218.3 L804.0 3225.3 L805.0 3232.2 L806.0 3239.2 L807.0 3246.1 L808.0 3253.1 L809.0 3260.0 L810.0 3267.0 L811.0 3274.0 L812.0 3280.9 L813.0 3287.9 L814.0 3294.8 L815.0 3301.8 L816.0 3308.7 L817.0 3315.7 L818.0 3322.6 L819.0 3329.6 L820.0 3336.6 L821.0 3343.5" fill="none" stroke="#76ab2f" stroke-width="2.4" stroke-linejoin="round" stroke-linecap="butt"/>
<path d="M112.0 2304.8 L113.0 2298.3 L114.0 2291.9 L115.0 2285.4 L116.0 2278.9 L117.0 2272.4 L118.0 2265.9 L119.0 2259.4 L120.0 2252.9 L121.0 2246.4 L122.0 2240.0 L123.0 2233.5 L124.0 2227.0 L125.0 2220.5 L126.0 2214.0 L127.0 2207.5 L128.0 2201.0 L129.0 2194.6 L130.0 2188.1 L131.0 2181.6 L132.0 2175.1 L133.0 2168.6 L134.0 2162.1 L135.0 2155.6 L136.0 2149.2 L137.0 2142.7 L138.0 2136.2 L139.0 2129.7 L140.0 2123.2 L141.0 2116.7 L142.0 2110.2 L143.0 2103.7 L144.0 2097.3 L145.0 2090.8 L146.0 2084.3 L147.0 2077.8 L148.0 2071.3 L149.0 2064.8 L150.0 2058.3 L151.0 2051.9 L152.0 2045.4 L153.0 2038.9 L154.0 2032.4 L155.0 2025.9 L156.0 2019.4 L157.0 2012.9 L158.0 2006.4 L159.0 2000.0 L160.0 1993.5 L161.0 1987.0 L162.0 1980.5 L163.0 1974.0 L164.0 1967.5 L165.0 1961.0 L166.0 1954.6 L167.0 1948.1 L168.0 1941.6 L169.0 1935.1 L170.0 1928.6 L171.0 1922.1 L172.0 1915.6 L173.0 1909.2 L174.0 1902.7 L175.0 1896.2 L176.0 1889.7 L177.0 1883.2 L178.0 1876.7 L179.0 1870.2 L180.0 1863.7 L181.0 1857.3 L182.0 1850.8 L183.0 1844.3 L184.0 1837.8 L185.0 1831.3 L186.0 1824.8 L187.0 1818.3 L188.0 1811.9 L189.0 1805.4 L190.0 1798.9 L191.0 1792.4 L192.0 1785.9 L193.0 1779.4 L194.0 1772.9 L195.0 1766.4 L196.0 1760.0 L197.0 1753.5 L198.0 1747.0 L199.0 1740.5 L200.0 1734.0 L201.0 1727.5 L202.0 1721.0 L203.0 1714.6 L204.0 1708.1 L205.0 1701.6 L206.0 1695.1 L207.0 1688.6 L208.0 1682.1 L209.0 1675.6 L210.0 1669.2 L211.0 1662.7 L212.0 1656.2 L213.0 1649.7 L214.0 1643.2 L215.0 1636.7 L216.0 1630.2 L217.0 1623.7 L218.0 1617.3 L219.0 1610.8 L220.0 1604.3 L221.0 1597.8 L222.0 1591.3 L223.0 1584.8 L224.0 1578.3 L225.0 1571.9 L226.0 1565.4 L227.0 1558.9 L228.0 1552.4 L229.0 1545.9 L230.0 1539.4 L231.0 1532.9 L232.0 1526.4 L233.0 1520.0 L234.0 1513.5 L235.0 1507.0 L236.0 1500.5 L237.0 1494.0 L238.0 1487.5 L239.0 1481.0 L240.0 1474.6 L241.0 1468.1 L242.0 1461.6 L243.0 1455.1 L244.0 1448.6 L245.0 1442.1 L246.0 1435.6 L247.0 1429.2 L248.0 1422.7 L249.0 1416.2 L250.0 1409.7 L251.0 1403.2 L252.0 1396.7 L253.0 1390.2 L254.0 1383.7 L255.0 1377.3 L256.0 1370.8 L257.0 1364.3 L258.0 1357.8 L259.0 1351.3 L260.0 1344.8 L261.0 1338.3 L262.0 1331.9 L263.0 1325.4 L264.0 1318.9 L265.0 1312.4 L266.0 1305.9 L267.0 1299.4 L268.0 1292.9 L269.0 1286.4 L270.0 1280.0 L271.0 1273.5 L272.0 1267.0 L273.0 1260.5 L274.0 1254.0 L275.0 1247.5 L276.0 1241.0 L277.0 1234.6 L278.0 1228.1 L279.0 1221.6 L280.0 1215.1 L281.0 1208.6 L282.0 1202.1 L283.0 1195.6 L284.0 1189.2 L285.0 1182.7 L286.0 1176.2 L287.0 1169.7 L288.0 1163.2 L289.0 1156.8 L290.0 1150.4 L291.0 1144.0 L292.0 1137.6 L293.0 1131.2 L294.0 1124.8 L295.0 1118.5 L296.0 1112.1 L297.0 1105.8 L298.0 1099.5 L299.0 1093.2 L300.0 1086.9 L301.0 1080.6 L302.0 1074.3 L303.0 1068.1 L304.0 1061.8 L305.0 1055.6 L306.0 1049.4 L307.0 1043.1 L308.0 1036.9 L309.0 1030.7 L310.0 1024.6 L311.0 1018.4 L312.0 1012.2 L313.0 1006.1 L314.0 999.9 L315.0 993.8 L316.0 987.6 L317.0 981.5 L318.0 975.4 L319.0 969.3 L320.0 963.3 L321.0 957.2 L322.0 951.2 L323.0 945.2 L324.0 939.2 L325.0 933.2 L326.0 927.3 L327.0 921.4 L328.0 915.5 L329.0 909.6 L330.0 903.8 L331.0 898.1 L332.0 892.3 L333.0 886.7 L334.0 881.0 L335.0 875.3 L336.0 869.7 L337.0 864.0 L338.0 858.3 L339.0 852.6 L340.0 846.9 L341.0 841.1 L342.0 835.3 L343.0 829.4 L344.0 823.4 L345.0 817.4 L346.0 811.5 L347.0 805.5 L348.0 799.6 L349.0 793.7 L350.0 787.9 L351.0 782.3 L352.0 776.7 L353.0 771.2 L354.0 765.9 L355.0 760.5 L356.0 755.3 L357.0 750.1 L358.0 745.0 L359.0 739.9 L360.0 734.8 L361.0 729.7 L362.0 724.6 L363.0 719.6 L364.0 714.5 L365.0 709.3 L366.0 704.2 L367.0 699.1 L368.0 694.0 L369.0 689.0 L370.0 683.9 L371.0 678.9 L372.0 673.8 L373.0 668.8 L374.0 663.7 L375.0 658.6 L376.0 653.4 L377.0 648.3 L378.0 643.0 L379.0 637.7 L380.0 632.4 L381.0 626.9 L382.0 621.4 L383.0 615.8 L384.0 610.2 L385.0 604.6 L386.0 599.1 L387.0 593.5 L388.0 588.1 L389.0 582.6 L390.0 577.1 L391.0 571.6 L392.0 566.1 L393.0 560.7 L394.0 555.3 L395.0 550.0 L396.0 544.8 L397.0 539.6 L398.0 534.5 L399.0 529.4 L400.0 524.4 L401.0 519.4 L402.0 514.5 L403.0 509.6 L404.0 504.8 L405.0 500.0 L406.0 495.3 L407.0 490.5 L408.0 485.7 L409.0 481.0 L410.0 476.3 L411.0 471.7 L412.0 467.4 L413.0 463.2 L414.0 459.3 L415.0 455.6 L416.0 452.1 L417.0 448.6 L418.0 445.2 L419.0 442.0 L420.0 438.9 L421.0 436.0 L422.0 433.3 L423.0 430.8 L424.0 428.5 L425.0 426.3 L426.0 424.1 L427.0 422.1 L428.0 420.1 L429.0 418.3 L430.0 416.6 L431.0 415.1 L432.0 413.7 L433.0 412.3 L434.0 411.0 L435.0 409.9 L436.0 408.9 L437.0 408.1 L438.0 407.5 L439.0 407.0 L440.0 406.5 L441.0 406.1 L442.0 405.9 L443.0 405.8 L444.0 405.9 L445.0 406.1 L446.0 406.5 L447.0 407.0 L448.0 407.5 L449.0 408.1 L450.0 408.9 L451.0 409.9 L452.0 411.0 L453.0 412.3 L454.0 413.7 L455.0 415.1 L456.0 416.6 L457.0 418.3 L458.0 420.1 L459.0 422.1 L460.0 424.1 L461.0 426.3 L462.0 428.5 L463.0 430.8 L464.0 433.3 L465.0 436.0 L466.0 438.9 L467.0 442.0 L468.0 445.2 L469.0 448.6 L470.0 452.1 L471.0 455.6 L472.0 459.3 L473.0 463.2 L474.0 467.4 L475.0 471.7 L476.0 476.3 L477.0 481.0 L478.0 485.7 L479.0 490.5 L480.0 495.3 L481.0 500.0 L482.0 504.8 L483.0 509.6 L484.0 514.5 L485.0 519.4 L486.0 524.4 L487.0 529.4 L488.0 534.5 L489.0 539.6 L490.0 544.8 L491.0 550.0 L492.0 555.3 L493.0 560.7 L494.0 566.1 L495.0 571.6 L496.0 577.1 L497.0 582.6 L498.0 588.1 L499.0 593.5 L500.0 599.1 L501.0 604.6 L502.0 610.2 L503.0 615.8 L504.0 621.4 L505.0 626.9 L506.0 632.4 L507.0 637.7 L508.0 643.0 L509.0 648.3 L510.0 653.4 L511.0 658.6 L512.0 663.7 L513.0 668.8 L514.0 673.8 L515.0 678.9 L516.0 683.9 L517.0 689.0 L518.0 694.0 L519.0 699.1 L520.0 704.2 L521.0 709.3 L522.0 714.5 L523.0 719.6 L524.0 724.6 L525.0 729.7 L526.0 734.8 L527.0 739.9 L528.0 745.0 L529.0 750.1 L530.0 755.3 L531.0 760.5 L532.0 765.9 L533.0 771.2 L534.0 776.7 L535.0 782.3 L536.0 787.9 L537.0 793.7 L538.0 799.6 L539.0 805.5 L540.0 811.5 L541.0 817.4 L542.0 823.4 L543.0 829.4 L544.0 835.3 L545.0 841.1 L546.0 846.9 L547.0 852.6 L548.0 858.3 L549.0 864.0 L550.0 869.7 L551.0 875.3 L552.0 881.0 L553.0 886.7 L554.0 892.3 L555.0 898.1 L556.0 903.8 L557.0 909.6 L558.0 915.5 L559.0 921.4 L560.0 927.3 L561.0 933.2 L562.0 939.2 L563.0 945.2 L564.0 951.2 L565.0 957.2 L566.0 963.3 L567.0 969.3 L568.0 975.4 L569.0 981.5 L570.0 987.6 L571.0 993.8 L572.0 999.9 L573.0 1006.1 L574.0 1012.2 L575.0 1018.4 L576.0 1024.6 L577.0 1030.7 L578.0 1036.9 L579.0 1043.1 L580.0 1049.4 L581.0 1055.6 L582.0 1061.8 L583.0 1068.1 L584.0 1074.3 L585.0 1080.6 L586.0 1086.9 L587.0 1093.2 L588.0 1099.5 L589.0 1105.8 L590.0 1112.1 L591.0 1118.5 L592.0 1124.8 L593.0 1131.2 L594.0 1137.6 L595.0 1144.0 L596.0 1150.4 L597.0 1156.8 L598.0 1163.2 L599.0 1169.7 L600.0 1176.2 L601.0 1182.7 L602.0 1189.2 L603.0 1195.6 L604.0 1202.1 L605.0 1208.6 L606.0 1215.1 L607.0 1221.6 L608.0 1228.1 L609.0 1234.6 L610.0 1241.0 L611.0 1247.5 L612.0 1254.0 L613.0 1260.5 L614.0 1267.0 L615.0 1273.5 L616.0 1280.0 L617.0 1286.4 L618.0 1292.9 L619.0 1299.4 L620.0 1305.9 L621.0 1312.4 L622.0 1318.9 L623.0 1325.4 L624.0 1331.9 L625.0 1338.3 L626.0 1344.8 L627.0 1351.3 L628.0 1357.8 L629.0 1364.3 L630.0 1370.8 L631.0 1377.3 L632.0 1383.7 L633.0 1390.2 L634.0 1396.7 L635.0 1403.2 L636.0 1409.7 L637.0 1416.2 L638.0 1422.7 L639.0 1429.2 L640.0 1435.6 L641.0 1442.1 L642.0 1448.6 L643.0 1455.1 L644.0 1461.6 L645.0 1468.1 L646.0 1474.6 L647.0 1481.0 L648.0 1487.5 L649.0 1494.0 L650.0 1500.5 L651.0 1507.0 L652.0 1513.5 L653.0 1520.0 L654.0 1526.4 L655.0 1532.9 L656.0 1539.4 L657.0 1545.9 L658.0 1552.4 L659.0 1558.9 L660.0 1565.4 L661.0 1571.9 L662.0 1578.3 L663.0 1584.8 L664.0 1591.3 L665.0 1597.8 L666.0 1604.3 L667.0 1610.8 L668.0 1617.3 L669.0 1623.7 L670.0 1630.2 L671.0 1636.7 L672.0 1643.2 L673.0 1649.7 L674.0 1656.2 L675.0 1662.7 L676.0 1669.2 L677.0 1675.6 L678.0 1682.1 L679.0 1688.6 L680.0 1695.1 L681.0 1701.6 L682.0 1708.1 L683.0 1714.6 L684.0 1721.0 L685.0 1727.5 L686.0 1734.0 L687.0 1740.5 L688.0 1747.0 L689.0 1753.5 L690.0 1760.0 L691.0 1766.4 L692.0 1772.9 L693.0 1779.4 L694.0 1785.9 L695.0 1792.4 L696.0 1798.9 L697.0 1805.4 L698.0 1811.9 L699.0 1818.3 L700.0 1824.8 L701.0 1831.3 L702.0 1837.8 L703.0 1844.3 L704.0 1850.8 L705.0 1857.3 L706.0 1863.7 L707.0 1870.2 L708.0 1876.7 L709.0 1883.2 L710.0 1889.7 L711.0 1896.2 L712.0 1902.7 L713.0 1909.2 L714.0 1915.6 L715.0 1922.1 L716.0 1928.6 L717.0 1935.1 L718.0 1941.6 L719.0 1948.1 L720.0 1954.6 L721.0 1961.0 L722.0 1967.5 L723.0 1974.0 L724.0 1980.5 L725.0 1987.0 L726.0 1993.5 L727.0 2000.0 L728.0 2006.4 L729.0 2012.9 L730.0 2019.4 L731.0 2025.9 L732.0 2032.4 L733.0 2038.9 L734.0 2045.4 L735.0 2051.9 L736.0 2058.3 L737.0 2064.8 L738.0 2071.3 L739.0 2077.8 L740.0 2084.3 L741.0 2090.8 L742.0 2097.3 L743.0 2103.7 L744.0 2110.2 L745.0 2116.7 L746.0 2123.2 L747.0 2129.7 L748.0 2136.2 L749.0 2142.7 L750.0 2149.2 L751.0 2155.6 L752.0 2162.1 L753.0 2168.6 L754.0 2175.1 L755.0 2181.6 L756.0 2188.1 L757.0 2194.6 L758.0 2201.0 L759.0 2207.5 L760.0 2214.0 L761.0 2220.5 L762.0 2227.0 L763.0 2233.5 L764.0 2240.0 L765.0 2246.4 L766.0 2252.9 L767.0 2259.4 L768.0 2265.9 L769.0 2272.4 L770.0 2278.9 L771.0 2285.4 L772.0 2291.9 L773.0 2298.3 L774.0 2304.8 L775.0 2311.3 L776.0 2317.8 L777.0 2324.3 L778.0 2330.8 L779.0 2337.3 L780.0 2343.7 L781.0 2350.2 L782.0 2356.7 L783.0 2363.2 L784.0 2369.7 L785.0 2376.2 L786.0 2382.7 L787.0 2389.2 L788.0 2395.6 L789.0 2402.1 L790.0 2408.6 L791.0 2415.1 L792.0 2421.6 L793.0 2428.1 L794.0 2434.6 L795.0 2441.0 L796.0 2447.5 L797.0 2454.0 L798.0 2460.5 L799.0 2467.0 L800.0 2473.5 L801.0 2480.0 L802.0 2486.4 L803.0 2492.9 L804.0 2499.4 L805.0 2505.9 L806.0 2512.4 L807.0 2518.9 L808.0 2525.4 L809.0 2531.9 L810.0 2538.3 L811.0 2544.8 L812.0 2551.3 L813.0 2557.8 L814.0 2564.3 L815.0 2570.8 L816.0 2577.3 L817.0 2583.7 L818.0 2590.2 L819.0 2596.7 L820.0 2603.2 L821.0 2609.7" fill="none" stroke="#4bbcec" stroke-width="2.4" stroke-linejoin="round" stroke-linecap="butt"/>
<path d="M112.0 632.6 L113.0 625.7 L114.0 618.9 L115.0 612.1 L116.0 605.3 L117.0 598.5 L118.0 591.8 L119.0 585.1 L120.0 578.4 L121.0 571.7 L122.0 565.0 L123.0 558.4 L124.0 551.8 L125.0 545.2 L126.0 538.7 L127.0 532.2 L128.0 525.7 L129.0 519.4 L130.0 513.0 L131.0 506.7 L132.0 500.4 L133.0 494.1 L134.0 487.8 L135.0 481.5 L136.0 475.2 L137.0 468.8 L138.0 462.4 L139.0 455.9 L140.0 449.3 L141.0 442.7 L142.0 436.1 L143.0 429.5 L144.0 422.9 L145.0 416.4 L146.0 410.0 L147.0 403.7 L148.0 397.6 L149.0 391.5 L150.0 385.6 L151.0 379.8 L152.0 374.0 L153.0 368.3 L154.0 362.6 L155.0 357.0 L156.0 351.4 L157.0 345.7 L158.0 340.1 L159.0 334.4 L160.0 328.7 L161.0 323.0 L162.0 317.4 L163.0 311.8 L164.0 306.2 L165.0 300.6 L166.0 295.0 L167.0 289.3 L168.0 283.7 L169.0 278.0 L170.0 272.3 L171.0 266.5 L172.0 260.6 L173.0 254.6 L174.0 248.6 L175.0 242.4 L176.0 236.2 L177.0 230.0 L178.0 223.8 L179.0 217.7 L180.0 211.6 L181.0 205.5 L182.0 199.4 L183.0 193.3 L184.0 187.3 L185.0 181.3 L186.0 175.3 L187.0 169.5 L188.0 163.7 L189.0 158.0 L190.0 152.4 L191.0 146.8 L192.0 141.3 L193.0 135.9 L194.0 130.5 L195.0 125.2 L196.0 119.9 L197.0 114.6 L198.0 109.3 L199.0 104.0 L200.0 98.8 L201.0 93.8 L202.0 89.0 L203.0 84.5 L204.0 80.4 L205.0 76.3 L206.0 72.4 L207.0 68.7 L208.0 65.1 L209.0 61.7 L210.0 58.6 L211.0 55.6 L212.0 53.0 L213.0 50.4 L214.0 48.0 L215.0 45.7 L216.0 43.5 L217.0 41.5 L218.0 39.6 L219.0 37.9 L220.0 36.4 L221.0 34.9 L222.0 33.6 L223.0 32.4 L224.0 31.4 L225.0 30.8 L226.0 30.2 L227.0 29.7 L228.0 29.3 L229.0 29.0 L230.0 29.0 L231.0 29.2 L232.0 29.6 L233.0 30.1 L234.0 30.6 L235.0 31.3 L236.0 32.2 L237.0 33.3 L238.0 34.6 L239.0 36.1 L240.0 37.6 L241.0 39.3 L242.0 41.1 L243.0 43.1 L244.0 45.2 L245.0 47.5 L246.0 49.9 L247.0 52.4 L248.0 55.1 L249.0 58.0 L250.0 61.1 L251.0 64.4 L252.0 68.0 L253.0 71.7 L254.0 75.5 L255.0 79.5 L256.0 83.7 L257.0 88.1 L258.0 92.8 L259.0 97.8 L260.0 103.0 L261.0 108.2 L262.0 113.5 L263.0 118.8 L264.0 124.1 L265.0 129.4 L266.0 134.8 L267.0 140.2 L268.0 145.7 L269.0 151.3 L270.0 156.9 L271.0 162.6 L272.0 168.3 L273.0 174.1 L274.0 180.1 L275.0 186.1 L276.0 192.1 L277.0 198.2 L278.0 204.3 L279.0 210.4 L280.0 216.4 L281.0 222.6 L282.0 228.8 L283.0 235.0 L284.0 241.2 L285.0 247.3 L286.0 253.4 L287.0 259.4 L288.0 265.3 L289.0 271.1 L290.0 276.9 L291.0 282.6 L292.0 288.2 L293.0 293.9 L294.0 299.5 L295.0 305.1 L296.0 310.7 L297.0 316.3 L298.0 321.9 L299.0 327.6 L300.0 333.3 L301.0 339.0 L302.0 344.6 L303.0 350.2 L304.0 355.9 L305.0 361.5 L306.0 367.2 L307.0 372.9 L308.0 378.6 L309.0 384.5 L310.0 390.4 L311.0 396.4 L312.0 402.5 L313.0 408.7 L314.0 415.1 L315.0 421.6 L316.0 428.1 L317.0 434.8 L318.0 441.4 L319.0 448.0 L320.0 454.6 L321.0 461.1 L322.0 467.6 L323.0 473.9 L324.0 480.3 L325.0 486.6 L326.0 492.9 L327.0 499.2 L328.0 505.4 L329.0 511.8 L330.0 518.1 L331.0 524.5 L332.0 530.9 L333.0 537.3 L334.0 543.9 L335.0 550.4 L336.0 557.0 L337.0 563.7 L338.0 570.3 L339.0 577.0 L340.0 583.7 L341.0 590.4 L342.0 597.2 L343.0 604.0 L344.0 610.8 L345.0 617.6 L346.0 624.4 L347.0 631.2 L348.0 638.0 L349.0 644.9 L350.0 651.7 L351.0 658.6 L352.0 665.5 L353.0 672.4 L354.0 679.3 L355.0 686.2 L356.0 693.2 L357.0 700.1 L358.0 707.1 L359.0 714.1 L360.0 721.1 L361.0 728.1 L362.0 735.1 L363.0 742.1 L364.0 749.2 L365.0 756.3 L366.0 763.4 L367.0 770.5 L368.0 777.6 L369.0 784.7 L370.0 791.9 L371.0 799.1 L372.0 806.3 L373.0 813.5 L374.0 820.7 L375.0 827.9 L376.0 835.1 L377.0 842.3 L378.0 849.5 L379.0 856.7 L380.0 863.9 L381.0 871.1 L382.0 878.3 L383.0 885.5 L384.0 892.7 L385.0 899.9 L386.0 907.1 L387.0 914.3 L388.0 921.5 L389.0 928.7 L390.0 935.9 L391.0 943.1 L392.0 950.3 L393.0 957.5 L394.0 964.7 L395.0 971.9 L396.0 979.1 L397.0 986.3 L398.0 993.5 L399.0 1000.7 L400.0 1007.9 L401.0 1015.1 L402.0 1022.3 L403.0 1029.5 L404.0 1036.7 L405.0 1043.9 L406.0 1051.1 L407.0 1058.3 L408.0 1065.5 L409.0 1072.7 L410.0 1079.9 L411.0 1087.1 L412.0 1094.3 L413.0 1101.5 L414.0 1108.7 L415.0 1115.9 L416.0 1123.1 L417.0 1130.3 L418.0 1137.5 L419.0 1144.7 L420.0 1151.9 L421.0 1159.1 L422.0 1166.3 L423.0 1173.5 L424.0 1180.7 L425.0 1187.9 L426.0 1195.1 L427.0 1202.3 L428.0 1209.5 L429.0 1216.7 L430.0 1223.9 L431.0 1231.1 L432.0 1238.3 L433.0 1245.5 L434.0 1252.7 L435.0 1259.9 L436.0 1267.1 L437.0 1274.3 L438.0 1281.5 L439.0 1288.7 L440.0 1295.9 L441.0 1303.1 L442.0 1310.3 L443.0 1317.5 L444.0 1324.7 L445.0 1331.9 L446.0 1339.1 L447.0 1346.3 L448.0 1353.5 L449.0 1360.7 L450.0 1367.9 L451.0 1375.1 L452.0 1382.3 L453.0 1389.5 L454.0 1396.7 L455.0 1403.9 L456.0 1411.1 L457.0 1418.3 L458.0 1425.5 L459.0 1432.7 L460.0 1439.9 L461.0 1447.1 L462.0 1454.3 L463.0 1461.5 L464.0 1468.7 L465.0 1475.9 L466.0 1483.1 L467.0 1490.3 L468.0 1497.5 L469.0 1504.7 L470.0 1511.9 L471.0 1519.1 L472.0 1526.3 L473.0 1533.5 L474.0 1540.7 L475.0 1547.9 L476.0 1555.1 L477.0 1562.3 L478.0 1569.5 L479.0 1576.7 L480.0 1583.9 L481.0 1591.1 L482.0 1598.3 L483.0 1605.5 L484.0 1612.7 L485.0 1619.9 L486.0 1627.1 L487.0 1634.3 L488.0 1641.5 L489.0 1648.7 L490.0 1655.9 L491.0 1663.1 L492.0 1670.3 L493.0 1677.5 L494.0 1684.7 L495.0 1691.9 L496.0 1699.1 L497.0 1706.3 L498.0 1713.5 L499.0 1720.7 L500.0 1727.9 L501.0 1735.1 L502.0 1742.3 L503.0 1749.5 L504.0 1756.7 L505.0 1763.9 L506.0 1771.1 L507.0 1778.3 L508.0 1785.5 L509.0 1792.7 L510.0 1799.9 L511.0 1807.1 L512.0 1814.3 L513.0 1821.5 L514.0 1828.7 L515.0 1835.9 L516.0 1843.1 L517.0 1850.3 L518.0 1857.5 L519.0 1864.7 L520.0 1871.9 L521.0 1879.1 L522.0 1886.3 L523.0 1893.5 L524.0 1900.7 L525.0 1907.9 L526.0 1915.1 L527.0 1922.3 L528.0 1929.5 L529.0 1936.7 L530.0 1943.9 L531.0 1951.1 L532.0 1958.3 L533.0 1965.5 L534.0 1972.7 L535.0 1979.9 L536.0 1987.1 L537.0 1994.3 L538.0 2001.5 L539.0 2008.7 L540.0 2015.9 L541.0 2023.1 L542.0 2030.3 L543.0 2037.5 L544.0 2044.7 L545.0 2051.9 L546.0 2059.1 L547.0 2066.3 L548.0 2073.5 L549.0 2080.7 L550.0 2087.9 L551.0 2095.1 L552.0 2102.3 L553.0 2109.5 L554.0 2116.7 L555.0 2123.9 L556.0 2131.1 L557.0 2138.3 L558.0 2145.5 L559.0 2152.7 L560.0 2159.9 L561.0 2167.1 L562.0 2174.3 L563.0 2181.5 L564.0 2188.7 L565.0 2195.9 L566.0 2203.1 L567.0 2210.3 L568.0 2217.5 L569.0 2224.7 L570.0 2231.9 L571.0 2239.1 L572.0 2246.3 L573.0 2253.5 L574.0 2260.7 L575.0 2267.9 L576.0 2275.1 L577.0 2282.3 L578.0 2289.5 L579.0 2296.7 L580.0 2303.9 L581.0 2311.1 L582.0 2318.3 L583.0 2325.5 L584.0 2332.7 L585.0 2339.9 L586.0 2347.1 L587.0 2354.3 L588.0 2361.5 L589.0 2368.7 L590.0 2375.9 L591.0 2383.1 L592.0 2390.3 L593.0 2397.5 L594.0 2404.7 L595.0 2411.9 L596.0 2419.1 L597.0 2426.3 L598.0 2433.5 L599.0 2440.7 L600.0 2447.9 L601.0 2455.1 L602.0 2462.3 L603.0 2469.5 L604.0 2476.7 L605.0 2483.9 L606.0 2491.1 L607.0 2498.3 L608.0 2505.5 L609.0 2512.7 L610.0 2519.9 L611.0 2527.1 L612.0 2534.3 L613.0 2541.5 L614.0 2548.7 L615.0 2555.9 L616.0 2563.1 L617.0 2570.3 L618.0 2577.5 L619.0 2584.7 L620.0 2591.9 L621.0 2599.1 L622.0 2606.3 L623.0 2613.5 L624.0 2620.7 L625.0 2627.9 L626.0 2635.1 L627.0 2642.3 L628.0 2649.5 L629.0 2656.7 L630.0 2663.9 L631.0 2671.1 L632.0 2678.3 L633.0 2685.5 L634.0 2692.7 L635.0 2699.9 L636.0 2707.1 L637.0 2714.3 L638.0 2721.5 L639.0 2728.7 L640.0 2735.9 L641.0 2743.1 L642.0 2750.3 L643.0 2757.5 L644.0 2764.7 L645.0 2771.9 L646.0 2779.1 L647.0 2786.3 L648.0 2793.5 L649.0 2800.7 L650.0 2807.9 L651.0 2815.1 L652.0 2822.3 L653.0 2829.5 L654.0 2836.7 L655.0 2843.9 L656.0 2851.1 L657.0 2858.3 L658.0 2865.5 L659.0 2872.7 L660.0 2879.9 L661.0 2887.1 L662.0 2894.3 L663.0 2901.5 L664.0 2908.7 L665.0 2915.9 L666.0 2923.1 L667.0 2930.3 L668.0 2937.5 L669.0 2944.7 L670.0 2951.9 L671.0 2959.1 L672.0 2966.3 L673.0 2973.5 L674.0 2980.7 L675.0 2987.9 L676.0 2995.1 L677.0 3002.3 L678.0 3009.5 L679.0 3016.7 L680.0 3023.9 L681.0 3031.1 L682.0 3038.3 L683.0 3045.5 L684.0 3052.7 L685.0 3059.9 L686.0 3067.1 L687.0 3074.3 L688.0 3081.5 L689.0 3088.7 L690.0 3095.9 L691.0 3103.1 L692.0 3110.3 L693.0 3117.5 L694.0 3124.7 L695.0 3131.9 L696.0 3139.1 L697.0 3146.3 L698.0 3153.5 L699.0 3160.7 L700.0 3167.9 L701.0 3175.1 L702.0 3182.3 L703.0 3189.5 L704.0 3196.7 L705.0 3203.9 L706.0 3211.1 L707.0 3218.3 L708.0 3225.5 L709.0 3232.7 L710.0 3239.9 L711.0 3247.1 L712.0 3254.3 L713.0 3261.5 L714.0 3268.7 L715.0 3275.9 L716.0 3283.1 L717.0 3290.3 L718.0 3297.5 L719.0 3304.7 L720.0 3311.9 L721.0 3319.1 L722.0 3326.3 L723.0 3333.5 L724.0 3340.7 L725.0 3347.9 L726.0 3355.1 L727.0 3362.3 L728.0 3369.5 L729.0 3376.7 L730.0 3383.9 L731.0 3391.1 L732.0 3398.3 L733.0 3405.5 L734.0 3412.7 L735.0 3419.9 L736.0 3427.1 L737.0 3434.3 L738.0 3441.5 L739.0 3448.7 L740.0 3455.9 L741.0 3463.1 L742.0 3470.3 L743.0 3477.5 L744.0 3484.7 L745.0 3491.9 L746.0 3499.1 L747.0 3506.3 L748.0 3513.5 L749.0 3520.7 L750.0 3527.9 L751.0 3535.1 L752.0 3542.3 L753.0 3549.5 L754.0 3556.7 L755.0 3563.9 L756.0 3571.1 L757.0 3578.3 L758.0 3585.5 L759.0 3592.7 L760.0 3599.9 L761.0 3607.1 L762.0 3614.3 L763.0 3621.5 L764.0 3628.7 L765.0 3635.9 L766.0 3643.1 L767.0 3650.3 L768.0 3657.5 L769.0 3664.7 L770.0 3671.9 L771.0 3679.1 L772.0 3686.3 L773.0 3693.5 L774.0 3700.7 L775.0 3707.9 L776.0 3715.1 L777.0 3722.3 L778.0 3729.5 L779.0 3736.7 L780.0 3743.9 L781.0 3751.1 L782.0 3758.3 L783.0 3765.5 L784.0 3772.7 L785.0 3779.9 L786.0 3787.1 L787.0 3794.3 L788.0 3801.5 L789.0 3808.7 L790.0 3815.9 L791.0 3823.1 L792.0 3830.3 L793.0 3837.5 L794.0 3844.7 L795.0 3851.9 L796.0 3859.1 L797.0 3866.3 L798.0 3873.5 L799.0 3880.7 L800.0 3887.9 L801.0 3895.1 L802.0 3902.3 L803.0 3909.5 L804.0 3916.7 L805.0 3923.9 L806.0 3931.1 L807.0 3938.3 L808.0 3945.5 L809.0 3952.7 L810.0 3959.9 L811.0 3967.1 L812.0 3974.3 L813.0 3981.5 L814.0 3988.7 L815.0 3995.9 L816.0 4003.1 L817.0 4010.3 L818.0 4017.5 L819.0 4024.7 L820.0 4031.9 L821.0 4039.1" fill="none" stroke="#7d2c8f" stroke-width="2.4" stroke-linejoin="round" stroke-linecap="butt"/>
</g>
<rect x="112" y="26" width="708.5" height="512" fill="none" stroke="#111111" stroke-width="1.4"/>
<line x1="112.0" y1="538.0" x2="120.5" y2="538.0" stroke="#111111" stroke-width="1.3"/>
<line x1="112.0" y1="459.9" x2="116.5" y2="459.9" stroke="#111111" stroke-width="1.3"/>
<line x1="112.0" y1="414.2" x2="116.5" y2="414.2" stroke="#111111" stroke-width="1.3"/>
<line x1="112.0" y1="381.8" x2="116.5" y2="381.8" stroke="#111111" stroke-width="1.3"/>
<line x1="112.0" y1="356.6" x2="116.5" y2="356.6" stroke="#111111" stroke-width="1.3"/>
<line x1="112.0" y1="336.1" x2="116.5" y2="336.1" stroke="#111111" stroke-width="1.3"/>
<line x1="112.0" y1="318.7" x2="116.5" y2="318.7" stroke="#111111" stroke-width="1.3"/>
<line x1="112.0" y1="303.6" x2="116.5" y2="303.6" stroke="#111111" stroke-width="1.3"/>
<line x1="112.0" y1="290.4" x2="116.5" y2="290.4" stroke="#111111" stroke-width="1.3"/>
<line x1="112.0" y1="278.5" x2="120.5" y2="278.5" stroke="#111111" stroke-width="1.3"/>
<line x1="112.0" y1="200.4" x2="116.5" y2="200.4" stroke="#111111" stroke-width="1.3"/>
<line x1="112.0" y1="154.7" x2="116.5" y2="154.7" stroke="#111111" stroke-width="1.3"/>
<line x1="112.0" y1="122.3" x2="116.5" y2="122.3" stroke="#111111" stroke-width="1.3"/>
<line x1="112.0" y1="97.1" x2="116.5" y2="97.1" stroke="#111111" stroke-width="1.3"/>
<line x1="112.0" y1="76.6" x2="116.5" y2="76.6" stroke="#111111" stroke-width="1.3"/>
<line x1="112.0" y1="59.2" x2="116.5" y2="59.2" stroke="#111111" stroke-width="1.3"/>
<line x1="112.0" y1="44.1" x2="116.5" y2="44.1" stroke="#111111" stroke-width="1.3"/>
<line x1="112.0" y1="30.9" x2="116.5" y2="30.9" stroke="#111111" stroke-width="1.3"/>
<line x1="112.0" y1="538.0" x2="112.0" y2="530.0" stroke="#111111" stroke-width="1.3"/>
<text fill="#161616" font-size="24.5"><tspan x="102.8" y="568.8" textLength="12.2" lengthAdjust="spacingAndGlyphs">−</tspan><tspan x="112.3" y="568.8">1</tspan></text>
<line x1="230.2" y1="538.0" x2="230.2" y2="530.0" stroke="#111111" stroke-width="1.3"/>
<text font-size="24.5" fill="#161616" text-anchor="middle" x="230.2" y="568.8">0</text>
<line x1="348.3" y1="538.0" x2="348.3" y2="530.0" stroke="#111111" stroke-width="1.3"/>
<text font-size="24.5" fill="#161616" text-anchor="middle" x="348.3" y="568.8">1</text>
<line x1="466.5" y1="538.0" x2="466.5" y2="530.0" stroke="#111111" stroke-width="1.3"/>
<text font-size="24.5" fill="#161616" text-anchor="middle" x="466.5" y="568.8">2</text>
<line x1="584.7" y1="538.0" x2="584.7" y2="530.0" stroke="#111111" stroke-width="1.3"/>
<text font-size="24.5" fill="#161616" text-anchor="middle" x="584.7" y="568.8">3</text>
<line x1="702.8" y1="538.0" x2="702.8" y2="530.0" stroke="#111111" stroke-width="1.3"/>
<text font-size="24.5" fill="#161616" text-anchor="middle" x="702.8" y="568.8">4</text>
<line x1="821.0" y1="538.0" x2="821.0" y2="530.0" stroke="#111111" stroke-width="1.3"/>
<text font-size="24.5" fill="#161616" text-anchor="middle" x="821.0" y="568.8">5</text>
<text fill="#161616" font-size="24"><tspan x="66" y="543.5" textLength="25.4" lengthAdjust="spacingAndGlyphs">10</tspan><tspan x="91" y="532.5" font-size="17.5">2</tspan></text>
<text fill="#161616" font-size="24"><tspan x="65" y="285.8" textLength="25.4" lengthAdjust="spacingAndGlyphs">10</tspan><tspan x="90.3" y="275" font-size="17.5">3</tspan></text>
<text font-size="28" fill="#161616" text-anchor="middle" textLength="276" lengthAdjust="spacingAndGlyphs" transform="translate(23.2 282.5) rotate(-90)">Spectral density (a.u.)</text>
<text font-size="28" fill="#161616" textLength="204.8" lengthAdjust="spacingAndGlyphs" x="363.8" y="610.5">Energy loss (eV)</text>
<text x="0.3" y="29.6" font-size="39" font-weight="bold" fill="#000" stroke="#000" stroke-width="0.9" stroke-linejoin="round" textLength="23.4" lengthAdjust="spacingAndGlyphs">a</text>
<line x1="615.0" y1="63.9" x2="639.3" y2="63.9" stroke="#0c72ba" stroke-width="2.4"/>
<line x1="615.0" y1="102.6" x2="639.3" y2="102.6" stroke="#d9551c" stroke-width="2.4"/>
<line x1="615.0" y1="143.0" x2="639.3" y2="143.0" stroke="#edb021" stroke-width="2.4"/>
<text font-size="28" fill="#161616" textLength="56" lengthAdjust="spacingAndGlyphs" x="654" y="71.6">Data</text>
<text font-size="28" fill="#161616" textLength="30" lengthAdjust="spacingAndGlyphs" x="654" y="110.5">Fit</text>
<text font-size="28" fill="#161616" textLength="89" lengthAdjust="spacingAndGlyphs" x="654" y="152">Photon</text>
<text font-size="28" fill="#161616" textLength="156" lengthAdjust="spacingAndGlyphs" x="654" y="184.8">contribution</text>
<text x="188.4" y="365.6" font-size="28" fill="#7d2c8f" textLength="68" lengthAdjust="spacingAndGlyphs"><tspan font-style="italic">m</tspan> = 0</text>
<text x="188.4" y="418.6" font-size="28" fill="#76ab2f" textLength="60" lengthAdjust="spacingAndGlyphs"><tspan font-style="italic">m</tspan> = 1</text>
<text x="188.4" y="467.5" font-size="28" fill="#4bbcec" textLength="65" lengthAdjust="spacingAndGlyphs"><tspan font-style="italic">m</tspan> = 2</text>
<polygon points="188.4,426.6 312.7,426.6 309.7,430.9 326.5,424.2 309.7,417.4 312.7,421.8 188.4,421.8" fill="#404f68"/>
<polygon points="188.4,476.1 425.7,476.1 422.7,480.4 439.5,473.7 422.7,466.9 425.7,471.3 188.4,471.3" fill="#404f68"/>
<g clip-path="url(#cd)">
<path d="M112.4 1166.0 L116.0 1166.0 L124.0 1161.6 L128.0 1163.0 L132.0 1159.0 L138.0 1156.0 L141.0 1156.6 L145.0 1150.0 L151.0 1143.0 L157.0 1132.0 L160.0 1124.0 L163.0 1119.0 L167.0 1104.0 L170.0 1095.0 L175.0 1074.0 L179.0 1050.0 L182.4 1021.0 L186.0 1010.0 L190.0 978.0 L193.0 954.0 L195.0 938.0 L198.0 890.0 L202.0 876.0 L205.0 854.0 L208.0 814.0 L211.0 784.0 L214.0 770.0 L217.0 748.0 L220.0 734.0 L223.2 722.0 L226.4 723.6 L230.0 718.0 L233.6 721.6 L236.6 728.0 L239.4 759.0 L244.0 784.0 L249.0 810.0 L254.0 858.0 L259.0 894.0 L262.0 934.0 L265.0 944.0 L268.0 966.0 L271.0 1000.0 L276.0 1018.0 L281.0 1036.0 L287.0 1062.0 L290.4 1059.0 L293.6 1077.0 L297.0 1074.0 L303.0 1089.0 L309.6 1091.4 L315.6 1086.0 L322.0 1091.0 L325.0 1089.0 L329.0 1080.6 L336.0 1086.0 L342.0 1095.0 L344.4 1094.0 L351.4 1101.4 L354.4 1091.0 L357.4 1105.0 L360.0 1105.0 L366.0 1118.0 L369.0 1118.4 L374.0 1117.0 L379.0 1124.0 L384.0 1130.0 L387.0 1130.6 L390.0 1134.0 L396.0 1134.0 L399.0 1131.6 L402.0 1135.6 L405.6 1134.0 L408.4 1135.4 L411.6 1132.0 L415.0 1137.6 L418.4 1133.6 L424.0 1133.6 L431.0 1132.4 L437.0 1135.4 L441.0 1135.0 L444.0 1137.0 L450.0 1135.6 L453.2 1134.0 L456.4 1138.6 L459.4 1141.4 L462.4 1136.0 L466.0 1141.0 L472.0 1144.6 L475.6 1143.6 L479.0 1145.6 L485.0 1145.0 L491.4 1149.0 L494.4 1145.0 L501.0 1147.4 L504.0 1143.6 L507.0 1148.4 L510.0 1145.4 L520.0 1145.6 L523.6 1147.0 L530.0 1148.0 L536.0 1149.6 L542.4 1150.6 L549.0 1149.4 L552.0 1147.0 L555.0 1153.0 L561.4 1149.0 L564.6 1152.0 L567.6 1150.0 L571.0 1152.6 L577.4 1151.0 L580.4 1151.6 L583.6 1150.0 L590.0 1152.0 L596.6 1155.6 L599.6 1156.0 L603.0 1151.6 L606.0 1152.4 L609.0 1152.0 L612.4 1154.0 L615.4 1152.0 L619.0 1157.0 L622.0 1153.0 L628.0 1152.6 L635.0 1153.6 L641.0 1153.0 L647.6 1157.0 L651.0 1154.0 L657.0 1153.0 L660.0 1159.3 L663.6 1156.3 L666.6 1155.9 L670.2 1157.5 L673.4 1154.5 L676.2 1156.6 L679.8 1155.1 L685.8 1157.2 L692.2 1157.8 L695.4 1155.9 L698.4 1157.8 L701.4 1158.7 L708.0 1156.9 L711.6 1155.1 L714.6 1159.5 L718.2 1158.7 L724.2 1158.7 L730.2 1161.4 L733.5 1159.0 L739.8 1161.7 L743.1 1156.9 L746.5 1158.1 L749.5 1158.7 L752.7 1160.7 L756.0 1157.7 L762.0 1159.3 L765.4 1159.3 L768.7 1161.1 L771.7 1157.5 L775.3 1159.5 L781.3 1158.7 L784.9 1156.5 L787.9 1158.7 L791.1 1163.5 L797.5 1161.7 L800.7 1160.2 L803.9 1161.9 L807.1 1161.1 L810.1 1158.7 L813.1 1159.3 L816.1 1157.5 L819.7 1162.9 L821.0 1164.0" fill="none" stroke="#0c72ba" stroke-width="2.4" stroke-linejoin="round" stroke-linecap="butt"/>
<path d="M112.0 1175.0 L125.0 1175.0 L137.0 1175.0 L143.0 1166.0 L149.0 1175.0 L155.0 1175.0 L160.0 1166.0 L166.0 1175.0 L180.0 1175.0 L188.0 1175.0 L191.6 1161.6 L196.0 1175.0 L198.0 1175.0 L201.0 1160.0 L204.0 1159.0 L208.0 1175.0 L211.0 1160.0 L213.0 1175.0 L220.0 1175.0 L224.0 1175.0 L227.0 1162.0 L230.0 1175.0 L233.0 1158.0 L237.0 1158.0 L240.0 1160.0 L242.4 1154.0 L246.0 1160.0 L249.0 1163.0 L252.0 1157.0 L255.6 1136.0 L258.6 1139.0 L261.6 1130.0 L265.0 1139.0 L271.0 1127.0 L277.0 1102.0 L281.0 1082.0 L284.0 1083.0 L288.0 1054.0 L293.0 1018.0 L298.0 976.0 L302.4 939.8 L308.0 890.0 L312.6 844.0 L315.6 834.0 L319.0 814.0 L321.0 780.0 L322.4 756.0 L325.6 740.4 L328.6 746.0 L332.0 728.4 L335.0 737.0 L338.4 734.4 L342.0 737.6 L345.0 743.0 L348.0 768.0 L351.0 807.0 L354.0 803.0 L357.0 842.0 L362.0 870.0 L367.0 898.0 L370.0 920.0 L372.0 939.8 L373.0 960.0 L376.4 995.0 L380.0 1006.0 L383.0 1018.0 L386.0 1040.0 L389.0 1048.0 L392.4 1049.6 L395.0 1068.0 L398.0 1075.0 L402.0 1070.6 L405.0 1078.0 L408.4 1084.4 L411.6 1082.4 L415.0 1087.0 L418.0 1093.0 L421.4 1083.0 L424.4 1087.4 L427.4 1082.4 L431.0 1091.0 L434.0 1084.0 L437.0 1092.0 L443.6 1083.6 L447.0 1088.0 L450.4 1095.6 L453.2 1084.0 L456.4 1099.6 L459.4 1095.0 L462.4 1097.0 L466.0 1113.0 L469.2 1099.0 L472.0 1103.6 L475.6 1116.0 L481.6 1129.0 L485.0 1122.0 L488.0 1125.0 L491.4 1123.4 L494.4 1128.0 L498.0 1124.0 L501.0 1138.4 L504.0 1140.0 L507.0 1135.0 L510.0 1133.6 L513.4 1140.6 L516.4 1134.0 L520.0 1134.4 L523.6 1132.0 L526.6 1133.6 L529.6 1132.0 L532.6 1119.4 L536.0 1132.0 L539.0 1131.0 L542.4 1133.0 L546.0 1141.0 L549.0 1135.6 L552.0 1139.0 L555.0 1139.0 L558.4 1131.0 L564.6 1141.0 L568.0 1133.6 L571.0 1137.0 L574.0 1135.6 L580.4 1142.4 L583.6 1141.0 L587.0 1135.6 L590.0 1145.0 L596.0 1141.0 L599.6 1146.4 L602.6 1143.6 L606.0 1145.0 L609.0 1143.6 L612.4 1139.0 L615.4 1146.4 L618.6 1143.6 L622.0 1145.6 L628.0 1144.4 L635.0 1151.0 L638.0 1145.6 L641.4 1151.0 L644.4 1151.6 L647.6 1146.0 L654.0 1147.0 L657.0 1149.0 L660.0 1145.5 L663.4 1152.1 L666.6 1147.0 L673.2 1152.7 L679.2 1147.9 L682.8 1148.5 L685.8 1153.0 L688.8 1149.7 L692.2 1149.1 L695.4 1146.7 L698.4 1150.6 L701.4 1149.7 L708.0 1152.1 L711.6 1152.1 L714.6 1147.5 L718.2 1152.3 L721.0 1153.5 L724.2 1149.9 L730.2 1152.1 L733.8 1152.9 L736.8 1151.8 L739.8 1149.1 L743.1 1153.0 L746.2 1151.5 L749.5 1155.4 L756.0 1152.7 L759.0 1153.0 L762.0 1151.8 L768.7 1155.7 L771.7 1154.2 L775.3 1158.1 L781.3 1154.2 L784.9 1155.4 L787.9 1152.1 L791.1 1155.4 L794.2 1155.4 L797.5 1152.7 L800.7 1157.8 L803.9 1158.1 L807.1 1156.6 L810.1 1158.7 L816.1 1155.7 L819.7 1155.1 L821.0 1155.0" fill="none" stroke="#d9551c" stroke-width="2.4" stroke-linejoin="round" stroke-linecap="butt"/>
<path d="M112.0 1175.0 L116.0 1175.0 L119.0 1175.0 L128.0 1175.0 L131.0 1175.0 L134.0 1175.0 L146.0 1167.0 L150.0 1175.0 L170.0 1175.0 L176.0 1163.0 L179.0 1175.0 L182.0 1163.6 L184.0 1175.0 L200.0 1175.0 L202.0 1163.0 L205.0 1175.0 L208.0 1151.0 L210.0 1175.0 L219.0 1175.0 L224.0 1155.0 L228.0 1163.0 L230.0 1160.0 L232.0 1175.0 L236.0 1175.0 L240.0 1162.0 L246.0 1166.0 L248.0 1175.0 L259.0 1175.0 L262.0 1165.0 L264.0 1175.0 L268.0 1163.0 L270.0 1175.0 L276.0 1175.0 L278.6 1163.0 L281.0 1163.0 L284.0 1175.0 L302.0 1175.0 L306.0 1160.0 L309.0 1175.0 L312.6 1167.0 L315.0 1175.0 L332.0 1175.0 L335.0 1175.0 L338.6 1152.0 L342.0 1175.0 L348.0 1152.4 L350.0 1175.0 L352.4 1175.0 L357.0 1150.0 L361.0 1146.6 L364.0 1148.0 L367.0 1158.0 L370.0 1134.6 L373.0 1133.6 L377.0 1122.0 L382.0 1115.0 L388.0 1092.0 L393.0 1074.0 L395.6 1085.0 L399.0 1028.0 L402.0 1024.0 L405.6 1010.0 L408.4 960.0 L413.0 944.0 L414.0 939.8 L418.0 916.0 L420.0 888.0 L421.4 864.0 L425.0 850.0 L428.0 837.0 L431.0 798.0 L434.0 777.6 L437.0 780.0 L440.0 782.0 L443.6 753.0 L447.0 817.6 L449.6 752.4 L450.4 752.4 L453.2 787.6 L456.4 769.6 L459.0 802.0 L462.4 846.0 L466.0 867.0 L469.2 860.0 L472.0 896.0 L475.6 939.8 L475.8 947.0 L478.6 948.0 L482.0 973.0 L485.0 968.0 L490.0 1000.0 L494.4 1037.0 L500.4 1044.0 L505.0 1056.0 L510.4 1069.0 L513.4 1089.0 L516.4 1087.4 L520.0 1091.0 L523.6 1083.0 L526.6 1088.6 L530.0 1085.0 L532.6 1071.0 L536.0 1081.0 L539.0 1073.6 L542.4 1090.0 L546.0 1090.6 L549.0 1088.6 L555.0 1094.0 L558.0 1101.6 L561.6 1089.0 L564.6 1082.0 L568.0 1096.0 L571.0 1101.0 L574.0 1112.4 L577.4 1101.0 L580.4 1118.0 L583.6 1124.4 L587.0 1112.4 L590.0 1123.0 L593.0 1119.4 L596.6 1118.0 L599.6 1121.4 L603.0 1117.4 L609.0 1135.0 L612.4 1120.4 L619.0 1136.0 L622.0 1129.0 L625.6 1125.6 L628.0 1138.0 L631.4 1128.0 L635.0 1131.0 L638.0 1129.0 L641.0 1138.0 L644.0 1124.0 L647.0 1133.0 L650.6 1116.4 L657.0 1142.0 L660.4 1112.0 L663.6 1140.0 L666.6 1129.8 L670.2 1137.0 L673.2 1138.9 L676.8 1138.3 L679.8 1139.5 L682.8 1122.6 L685.8 1139.5 L688.8 1136.2 L692.2 1135.5 L695.4 1143.0 L698.4 1137.0 L702.0 1139.1 L705.0 1138.9 L708.0 1145.8 L711.6 1143.0 L714.6 1143.9 L718.2 1139.5 L721.0 1147.9 L724.2 1137.7 L727.2 1139.1 L730.2 1137.7 L733.5 1143.9 L736.8 1138.6 L740.5 1141.3 L746.5 1144.3 L749.5 1147.3 L752.7 1138.9 L756.0 1150.3 L759.0 1147.5 L762.0 1146.7 L765.4 1143.7 L768.7 1128.7 L771.7 1134.7 L775.3 1142.7 L778.3 1144.9 L781.3 1154.2 L784.9 1143.7 L787.9 1135.9 L791.1 1144.9 L794.2 1149.7 L797.5 1141.5 L800.7 1144.9 L803.9 1147.0 L807.1 1140.7 L810.1 1158.7 L813.1 1151.5 L816.1 1154.2 L819.7 1148.5 L821.0 1146.0" fill="none" stroke="#edb021" stroke-width="2.4" stroke-linejoin="round" stroke-linecap="butt"/>
</g>
<rect x="112" y="673.5" width="708.5" height="496.5" fill="none" stroke="#111111" stroke-width="1.4"/>
<line x1="112.0" y1="1170.0" x2="112.0" y2="1162.0" stroke="#111111" stroke-width="1.3"/>
<text fill="#161616" font-size="24.5"><tspan x="102.8" y="1199.8" textLength="12.2" lengthAdjust="spacingAndGlyphs">−</tspan><tspan x="112.3" y="1199.8">1</tspan></text>
<line x1="230.2" y1="1170.0" x2="230.2" y2="1162.0" stroke="#111111" stroke-width="1.3"/>
<text font-size="24.5" fill="#161616" text-anchor="middle" x="230.2" y="1199.8">0</text>
<line x1="348.3" y1="1170.0" x2="348.3" y2="1162.0" stroke="#111111" stroke-width="1.3"/>
<text font-size="24.5" fill="#161616" text-anchor="middle" x="348.3" y="1199.8">1</text>
<line x1="466.5" y1="1170.0" x2="466.5" y2="1162.0" stroke="#111111" stroke-width="1.3"/>
<text font-size="24.5" fill="#161616" text-anchor="middle" x="466.5" y="1199.8">2</text>
<line x1="584.7" y1="1170.0" x2="584.7" y2="1162.0" stroke="#111111" stroke-width="1.3"/>
<text font-size="24.5" fill="#161616" text-anchor="middle" x="584.7" y="1199.8">3</text>
<line x1="702.8" y1="1170.0" x2="702.8" y2="1162.0" stroke="#111111" stroke-width="1.3"/>
<text font-size="24.5" fill="#161616" text-anchor="middle" x="702.8" y="1199.8">4</text>
<line x1="821.0" y1="1170.0" x2="821.0" y2="1162.0" stroke="#111111" stroke-width="1.3"/>
<text font-size="24.5" fill="#161616" text-anchor="middle" x="821.0" y="1199.8">5</text>
<line x1="112.0" y1="1170.0" x2="124.0" y2="1170.0" stroke="#111111" stroke-width="1.3"/>
<text font-size="24.5" fill="#161616" text-anchor="end" textLength="14.6" lengthAdjust="spacingAndGlyphs" x="99.6" y="1177.9">0</text>
<line x1="112.0" y1="1004.5" x2="124.0" y2="1004.5" stroke="#111111" stroke-width="1.3"/>
<text font-size="24.5" fill="#161616" text-anchor="end" textLength="46.3" lengthAdjust="spacingAndGlyphs" x="99.6" y="1012.4">0.01</text>
<line x1="112.0" y1="839.0" x2="124.0" y2="839.0" stroke="#111111" stroke-width="1.3"/>
<text font-size="24.5" fill="#161616" text-anchor="end" textLength="51.0" lengthAdjust="spacingAndGlyphs" x="99.6" y="846.9">0.02</text>
<line x1="112.0" y1="673.5" x2="124.0" y2="673.5" stroke="#111111" stroke-width="1.3"/>
<text font-size="24.5" fill="#161616" text-anchor="end" textLength="51.0" lengthAdjust="spacingAndGlyphs" x="99.6" y="681.4">0.03</text>
<text font-size="28" fill="#161616" text-anchor="middle" textLength="276" lengthAdjust="spacingAndGlyphs" transform="translate(23.2 922) rotate(-90)">Spectral density (a.u.)</text>
<text font-size="28" fill="#161616" textLength="204.8" lengthAdjust="spacingAndGlyphs" x="363.8" y="1243">Energy loss (eV)</text>
<text x="0" y="673.8" font-size="39" font-weight="bold" fill="#000" stroke="#000" stroke-width="0.9" stroke-linejoin="round" textLength="25.7" lengthAdjust="spacingAndGlyphs">d</text>
<line x1="616.0" y1="713.6" x2="639.6" y2="713.6" stroke="#0c72ba" stroke-width="2.4"/>
<line x1="616.0" y1="758.0" x2="639.6" y2="758.0" stroke="#d9551c" stroke-width="2.4"/>
<line x1="616.0" y1="802.0" x2="639.6" y2="802.0" stroke="#edb021" stroke-width="2.4"/>
<text x="655.7" y="721.5" font-size="28" fill="#161616" textLength="59" lengthAdjust="spacingAndGlyphs"><tspan font-style="italic">k</tspan> = 0</text>
<text x="655.7" y="766.2" font-size="28" fill="#161616" textLength="49.5" lengthAdjust="spacingAndGlyphs"><tspan font-style="italic">k</tspan> = 1</text>
<text x="655.7" y="810.8" font-size="28" fill="#161616" textLength="56" lengthAdjust="spacingAndGlyphs"><tspan font-style="italic">k</tspan> = 2</text>
<g clip-path="url(#cc)">
<polygon points="998.0,422.7 1012.0,422.7 1105.7,432.5 1199.2,443.9 1292.9,489.5 1386.6,552.8 1480.0,593.1 1480.0,700.8 1386.6,726.3 1292.9,722.0 1199.2,701.4 1105.7,683.8 1012.0,666.3 998.0,663.7" fill="#cccccc"/>
<path d="M1001.5 544.2H1022.5M1012 533.7V554.7M1004.6 536.8L1019.4 551.6M1004.6 551.6L1019.4 536.8" stroke="#0f75c0" stroke-width="1.8" fill="none"/>
<path d="M1095.2 557.2H1116.2M1105.7 546.7V567.7M1098.3 549.8L1113.1 564.6M1098.3 564.6L1113.1 549.8" stroke="#0f75c0" stroke-width="1.8" fill="none"/>
<path d="M1188.7 571.8H1209.7M1199.2 561.3V582.3M1191.8 564.4L1206.6 579.2M1191.8 579.2L1206.6 564.4" stroke="#0f75c0" stroke-width="1.8" fill="none"/>
<path d="M1282.4 604.6H1303.4M1292.9 594.1V615.1M1285.5 597.2L1300.3 612.0M1285.5 612.0L1300.3 597.2" stroke="#0f75c0" stroke-width="1.8" fill="none"/>
<path d="M1376.1 640.3H1397.1M1386.6 629.8V650.8M1379.2 632.9L1394.0 647.7M1379.2 647.7L1394.0 632.9" stroke="#0f75c0" stroke-width="1.8" fill="none"/>
<path d="M1471.0 647.4H1492.0M1481.5 636.9V657.9M1474.1 640.0L1488.9 654.8M1474.1 654.8L1488.9 640.0" stroke="#0f75c0" stroke-width="1.8" fill="none"/>
</g>
<rect x="998" y="406.5" width="486.4" height="333.0" fill="none" stroke="#111111" stroke-width="1.4"/>
<line x1="998.0" y1="739.5" x2="1007.0" y2="739.5" stroke="#111111" stroke-width="1.3"/>
<text font-size="24.5" fill="#161616" text-anchor="end" textLength="33.0" lengthAdjust="spacingAndGlyphs" x="985" y="747.7">0.1</text>
<line x1="998.0" y1="637.1" x2="1007.0" y2="637.1" stroke="#111111" stroke-width="1.3"/>
<text font-size="24.5" fill="#161616" text-anchor="end" textLength="33.0" lengthAdjust="spacingAndGlyphs" x="985" y="645.4">0.3</text>
<line x1="998.0" y1="534.8" x2="1007.0" y2="534.8" stroke="#111111" stroke-width="1.3"/>
<text font-size="24.5" fill="#161616" text-anchor="end" textLength="33.0" lengthAdjust="spacingAndGlyphs" x="985" y="543.0">0.5</text>
<line x1="998.0" y1="432.5" x2="1007.0" y2="432.5" stroke="#111111" stroke-width="1.3"/>
<text font-size="24.5" fill="#161616" text-anchor="end" textLength="33.0" lengthAdjust="spacingAndGlyphs" x="985" y="440.7">0.7</text>
<line x1="1123.0" y1="739.5" x2="1123.0" y2="730.5" stroke="#111111" stroke-width="1.3"/>
<text font-size="24.5" fill="#161616" text-anchor="middle" textLength="44.1" lengthAdjust="spacingAndGlyphs" x="1123" y="769.9">300</text>
<line x1="1303.6" y1="739.5" x2="1303.6" y2="730.5" stroke="#111111" stroke-width="1.3"/>
<text font-size="24.5" fill="#161616" text-anchor="middle" textLength="44.1" lengthAdjust="spacingAndGlyphs" x="1303.6" y="769.9">400</text>
<line x1="1484.0" y1="739.5" x2="1484.0" y2="730.5" stroke="#111111" stroke-width="1.3"/>
<text font-size="24.5" fill="#161616" text-anchor="middle" textLength="44.1" lengthAdjust="spacingAndGlyphs" x="1482.6" y="769.9">500</text>
<text font-size="28" fill="#161616" text-anchor="middle" textLength="293.5" lengthAdjust="spacingAndGlyphs" x="1240.3" y="808">Impact parameter (nm)</text>
<text x="890.5" y="409.5" font-size="39" font-weight="bold" fill="#000" stroke="#000" stroke-width="0.9" stroke-linejoin="round" textLength="23.4" lengthAdjust="spacingAndGlyphs">c</text>
<g transform="translate(921.4 604.8) rotate(-90)">
<text fill="#161616"><tspan x="0" y="0" font-size="29" font-style="italic">g</tspan><tspan x="17.3" y="8.8" font-size="19.5">0</tspan><tspan x="22.3" y="-12.4" font-size="19.5" textLength="40.5" lengthAdjust="spacingAndGlyphs">EELS</tspan></text>
</g>
<polygon points="1086.1,601.4 1033.1,563.3 1038.1,561.5 1020.5,557.2 1030.2,572.5 1030.3,567.2 1083.3,605.2" fill="#404f68"/>
<polygon points="1414.2,541.4 1461.4,625.4 1456.2,625.0 1470.3,636.3 1468.0,618.3 1465.6,623.1 1418.4,539.0" fill="#404f68"/>
<rect x="1099.2" y="619.2" width="20.8" height="61.2" fill="#4500b9"/>
<rect x="1124.8" y="666.9" width="20.2" height="13.5" fill="#4500b9"/>
<rect x="1150.0" y="676.9" width="20.7" height="3.5" fill="#4500b9"/>
<rect x="1175.5" y="679.0" width="20.2" height="1.4" fill="#4500b9"/>
<rect x="1079.3" y="615.5" width="137.1" height="64.9" fill="none" stroke="#111111" stroke-width="1.5"/>
<line x1="1109.6" y1="680.4" x2="1109.6" y2="674.4" stroke="#111111" stroke-width="1.1"/>
<text font-size="22" fill="#161616" text-anchor="middle" textLength="13.7" lengthAdjust="spacingAndGlyphs" x="1109.6" y="704">0</text>
<line x1="1134.8" y1="680.4" x2="1134.8" y2="674.4" stroke="#111111" stroke-width="1.1"/>
<text font-size="22" fill="#161616" text-anchor="middle" textLength="13.7" lengthAdjust="spacingAndGlyphs" x="1134.8" y="704">1</text>
<line x1="1160.3" y1="680.4" x2="1160.3" y2="674.4" stroke="#111111" stroke-width="1.1"/>
<text font-size="22" fill="#161616" text-anchor="middle" textLength="13.7" lengthAdjust="spacingAndGlyphs" x="1160.3" y="704">2</text>
<line x1="1185.8" y1="680.4" x2="1185.8" y2="674.4" stroke="#111111" stroke-width="1.1"/>
<text font-size="22" fill="#161616" text-anchor="middle" textLength="13.7" lengthAdjust="spacingAndGlyphs" x="1185.8" y="704">3</text>
<line x1="1079.3" y1="647.9" x2="1086.3" y2="647.9" stroke="#111111" stroke-width="1.1"/>
<text font-size="22" fill="#161616" text-anchor="end" textLength="33.0" lengthAdjust="spacingAndGlyphs" x="1070.5" y="623.8">0.8</text>
<text font-size="22" fill="#161616" text-anchor="end" textLength="13.7" lengthAdjust="spacingAndGlyphs" x="1070.5" y="689">0</text>
<text font-size="24" fill="#161616" text-anchor="middle" textLength="21.5" lengthAdjust="spacingAndGlyphs" font-style="italic" x="1147.9" y="736">m</text>
<g transform="translate(1023.5 667.5) rotate(-90)"><text font-style="italic" fill="#161616"><tspan x="0" y="0" font-size="27">P</tspan><tspan x="19" y="8" font-size="21">m</tspan></text></g>
<rect x="1341.0" y="431.9" width="23.1" height="61.7" fill="#4500b9"/>
<rect x="1369.7" y="488.2" width="23.1" height="5.4" fill="#4500b9"/>
<rect x="1317.7" y="426.3" width="156.0" height="67.3" fill="none" stroke="#111111" stroke-width="1.5"/>
<line x1="1352.5" y1="493.6" x2="1352.5" y2="487.6" stroke="#111111" stroke-width="1.1"/>
<text font-size="22" fill="#161616" text-anchor="middle" textLength="13.7" lengthAdjust="spacingAndGlyphs" x="1352.5" y="518.8">0</text>
<line x1="1381.5" y1="493.6" x2="1381.5" y2="487.6" stroke="#111111" stroke-width="1.1"/>
<text font-size="22" fill="#161616" text-anchor="middle" textLength="13.7" lengthAdjust="spacingAndGlyphs" x="1381.5" y="518.8">1</text>
<line x1="1410.4" y1="493.6" x2="1410.4" y2="487.6" stroke="#111111" stroke-width="1.1"/>
<text font-size="22" fill="#161616" text-anchor="middle" textLength="13.7" lengthAdjust="spacingAndGlyphs" x="1410.4" y="518.8">2</text>
<line x1="1438.9" y1="493.6" x2="1438.9" y2="487.6" stroke="#111111" stroke-width="1.1"/>
<text font-size="22" fill="#161616" text-anchor="middle" textLength="13.7" lengthAdjust="spacingAndGlyphs" x="1438.9" y="518.8">3</text>
<line x1="1317.7" y1="460.3" x2="1324.7" y2="460.3" stroke="#111111" stroke-width="1.1"/>
<text font-size="22" fill="#161616" text-anchor="end" textLength="13.2" lengthAdjust="spacingAndGlyphs" x="1306.5" y="434.3">1</text>
<text font-size="22" fill="#161616" text-anchor="end" textLength="13.7" lengthAdjust="spacingAndGlyphs" x="1306.5" y="501.3">0</text>
<text font-size="24" fill="#161616" text-anchor="middle" textLength="21.5" lengthAdjust="spacingAndGlyphs" font-style="italic" x="1396.3" y="546.3">m</text>
<g transform="translate(1279 478.5) rotate(-90)"><text font-style="italic" fill="#161616"><tspan x="0" y="0" font-size="27">P</tspan><tspan x="19" y="8" font-size="21">m</tspan></text></g>
<g clip-path="url(#ce)">
<path d="M997.9 1131.6 L1008.0 1130.4 L1017.6 1127.0 L1026.0 1125.1 L1034.5 1122.2 L1044.1 1121.5 L1052.5 1120.3 L1061.6 1119.8 L1070.5 1114.3 L1079.4 1107.8 L1088.0 1100.4 L1096.9 1093.4 L1105.8 1092.4 L1114.5 1083.0 L1123.4 1078.0 L1131.8 1078.0 L1140.7 1080.7 L1149.8 1075.8 L1158.2 1071.3 L1167.3 1056.6 L1176.2 1017.5 L1185.1 990.5 L1193.8 967.7 L1202.7 944.4 L1211.6 915.6 L1220.2 916.5 L1229.1 922.8 L1238.0 928.8 L1246.7 925.9 L1255.6 938.9 L1264.0 961.7 L1273.2 975.6 L1282.1 1007.4 L1290.9 1022.3 L1299.6 1044.6 L1308.5 1063.8 L1317.4 1079.9 L1326.0 1090.3 L1334.9 1097.5 L1343.8 1110.0 L1352.5 1116.7 L1361.4 1122.0 L1369.8 1123.4 L1378.9 1125.1 L1387.8 1126.8 L1396.7 1127.0 L1405.3 1128.2 L1414.2 1129.9 L1423.1 1128.7 L1432.2 1129.0 L1440.6 1129.0 L1449.5 1130.2 L1458.2 1130.9 L1467.1 1131.1 L1476.0 1131.6 L1484.4 1132.1" fill="none" stroke="#0c72ba" stroke-width="2.3" stroke-linejoin="round" stroke-linecap="butt"/>
</g>
<rect x="998" y="888.6" width="486.4" height="278.3" fill="none" stroke="#111111" stroke-width="1.4"/>
<line x1="998.0" y1="1138.8" x2="1007.0" y2="1138.8" stroke="#111111" stroke-width="1.3"/>
<line x1="1119.7" y1="1166.9" x2="1119.7" y2="1157.9" stroke="#111111" stroke-width="1.3"/>
<text font-size="24.5" fill="#161616" text-anchor="middle" textLength="61.3" lengthAdjust="spacingAndGlyphs" x="1119.2" y="1196.2">1,300</text>
<line x1="1254.7" y1="1166.9" x2="1254.7" y2="1157.9" stroke="#111111" stroke-width="1.3"/>
<text font-size="24.5" fill="#161616" text-anchor="middle" textLength="61.3" lengthAdjust="spacingAndGlyphs" x="1254.2" y="1196.2">1,400</text>
<line x1="1389.7" y1="1166.9" x2="1389.7" y2="1157.9" stroke="#111111" stroke-width="1.3"/>
<text font-size="24.5" fill="#161616" text-anchor="middle" textLength="61.3" lengthAdjust="spacingAndGlyphs" x="1389.2" y="1196.2">1,500</text>
<text font-size="24.5" fill="#161616" text-anchor="end" textLength="27.3" lengthAdjust="spacingAndGlyphs" x="985.3" y="896.3">90</text>
<text font-size="24.5" fill="#161616" text-anchor="end" textLength="13.6" lengthAdjust="spacingAndGlyphs" x="985.3" y="1147.2">0</text>
<text font-size="28" fill="#161616" text-anchor="middle" textLength="179" lengthAdjust="spacingAndGlyphs" transform="translate(930.3 1028) rotate(-90)">Intensity (a.u.)</text>
<text font-size="28" fill="#161616" text-anchor="middle" textLength="218.5" lengthAdjust="spacingAndGlyphs" x="1241.3" y="1237.8">Wavelength (nm)</text>
<text x="890.5" y="889.6" font-size="39" font-weight="bold" fill="#000" stroke="#000" stroke-width="0.9" stroke-linejoin="round" textLength="23.4" lengthAdjust="spacingAndGlyphs">e</text>
<text font-size="28" fill="#161616" textLength="81" lengthAdjust="spacingAndGlyphs" x="1305" y="937.7">FWHM</text>
<text font-size="28" fill="#161616" textLength="83" lengthAdjust="spacingAndGlyphs" x="1304.3" y="969.6">80 nm</text>
<polygon points="1111.1,1009.1 1148.9,1009.1 1145.9,1013.5 1162.7,1006.7 1145.9,1000.0 1148.9,1004.3 1111.1,1004.3" fill="#404f68"/>
<polygon points="1355.3,1004.3 1319.0,1004.3 1322.0,1000.0 1305.2,1006.7 1322.0,1013.5 1319.0,1009.1 1355.3,1009.1" fill="#404f68"/>
<polygon points="903,224.8 1059,157 1431.6,157 1486.6,300.5 1486.6,326 903,326" fill="#dbc9b9"/>
<line x1="903.0" y1="301.2" x2="1486.6" y2="301.2" stroke="#ece2d8" stroke-width="1.4"/>
<path d="M926 326 V300.5 L964.5 250.9 C985 227 1003 207 1029 186.4 C1046 174 1062 168 1078.6 166.5 C1090 165 1100 164.8 1113.4 164.8 H1314 C1340 165 1362 176 1373.7 188.9 C1384 200 1386.5 212 1385.6 218.6 C1384.5 236 1378 254 1371.2 273.2 L1360.8 300.5 V326 H1322.3 V300.5 L1336.5 273.2 C1345 255 1353 236 1355.1 218.6 C1356 208 1350 199 1341.4 193.8 C1332 188 1320 184.5 1304.2 183.9 H1113.4 C1100 184 1090 185 1078 188 C1062 192 1050 199 1038.9 208.7 C1030 217 1022 226 1014.1 236 L964 300.5 V326 Z" fill="#6a90b4"/>
<path d="M957 71.7 Q1092 123.6 1222.3 123.6 Q1345 123.6 1468 71.7 A19.6 65.2 0 0 1 1468 202.2 Q1345 143.4 1222.3 143.4 Q1092 143.4 957 203 A36 73 0 0 1 957 71.7 Z" fill="#2ca52c"/>
<path d="M1468 71.7 A18.6 65.2 0 0 0 1468 202.2" fill="none" stroke="#d9efd6" stroke-width="0.9"/>
<line x1="965.7" y1="76.0" x2="965.7" y2="199.0" stroke="#111" stroke-width="1.3"/>
<line x1="1043.4" y1="133" x2="1222.3" y2="133" stroke="#111" stroke-width="2" stroke-dasharray="8.6 5.2"/>
<line x1="1222.3" y1="124.0" x2="1222.3" y2="142.0" stroke="#111" stroke-width="2"/>
<path d="M1094.9 133 Q1082 146 1093.2 160.6" fill="none" stroke="#111" stroke-width="2"/>
<text font-size="29" fill="#161616" textLength="15.5" lengthAdjust="spacingAndGlyphs" font-style="italic" x="1058.3" y="158.6">α</text>
<line x1="1108.9" y1="222.4" x2="1273.5" y2="222.4" stroke="#111" stroke-width="2"/>
<line x1="1108.9" y1="210.0" x2="1108.9" y2="235.5" stroke="#111" stroke-width="2"/>
<line x1="1273.5" y1="210.0" x2="1273.5" y2="235.5" stroke="#111" stroke-width="2"/>
<line x1="1150.6" y1="166" x2="1108.9" y2="218.6" stroke="#111" stroke-width="1.1" stroke-dasharray="3.2 2.2"/>
<line x1="1313.6" y1="167.3" x2="1273.9" y2="219.1" stroke="#111" stroke-width="1.1" stroke-dasharray="3.2 2.2"/>
<text font-size="28" fill="#161616" textLength="82.5" lengthAdjust="spacingAndGlyphs" x="1154.6" y="255">40 µm</text>
<text fill="#161616"><tspan x="940.6" y="65.8" font-size="23" textLength="11.2" lengthAdjust="spacingAndGlyphs">~</tspan><tspan x="951.2" y="66" font-size="28" textLength="95.6" lengthAdjust="spacingAndGlyphs">100 nm</tspan></text>
<text fill="#161616"><tspan x="1185.6" y="110.5" font-size="23" textLength="11.2" lengthAdjust="spacingAndGlyphs">~</tspan><tspan x="1196.5" y="110.8" font-size="28" textLength="82.8" lengthAdjust="spacingAndGlyphs">30 nm</tspan></text>
<text font-size="28" fill="#35a635" textLength="186" lengthAdjust="spacingAndGlyphs" x="1282.8" y="67.2">Electron beam</text>
<text x="890.8" y="29.5" font-size="39" font-weight="bold" fill="#000" stroke="#000" stroke-width="0.9" stroke-linejoin="round" textLength="25.7" lengthAdjust="spacingAndGlyphs">b</text>
</svg></body></html>
